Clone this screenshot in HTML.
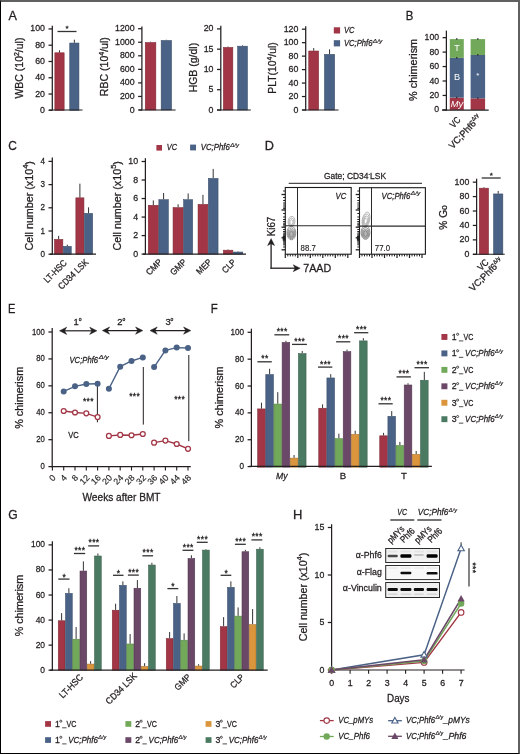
<!DOCTYPE html>
<html><head><meta charset="utf-8"><style>
html,body{margin:0;padding:0;background:#fff;}
body{width:520px;height:754px;overflow:hidden;position:relative;}
svg{position:absolute;left:0;top:0;display:block;will-change:transform;}
text{font-family:"Liberation Sans", sans-serif;fill:#231f20;stroke:#231f20;stroke-width:0.28px;}
.frame{position:absolute;left:0;top:0;width:520px;height:754px;box-sizing:border-box;
border-top:2px solid #606060;border-right:2px solid #606060;border-left:1px solid #000;border-bottom:1px solid #000;}
</style></head><body>
<svg width="520" height="754" viewBox="0 0 520 754" font-family='"Liberation Sans", sans-serif' fill="#231f20">
<text x="8.5" y="20.2" font-size="12.6" >A</text>
<line x1="59.5" y1="50.26" x2="59.5" y2="52.54" stroke="#333" stroke-width="1" />
<rect x="54.85" y="52.79" width="9.3" height="57.51" fill="#a23646" stroke="#7e2a36" stroke-width="0.55" />
<line x1="74.35" y1="39.69" x2="74.35" y2="42.78" stroke="#333" stroke-width="1" />
<rect x="69.75" y="43.03" width="9.2" height="67.27" fill="#4a6286" stroke="#394c68" stroke-width="0.55" />
<line x1="52.3" y1="25.8" x2="52.3" y2="110.62" stroke="#231f20" stroke-width="1.25" />
<line x1="48.5" y1="110.3" x2="52.3" y2="110.3" stroke="#231f20" stroke-width="1.25" />
<text x="45" y="112.8" font-size="9.8" text-anchor="end" textLength="4.9" lengthAdjust="spacingAndGlyphs" >0</text>
<line x1="48.5" y1="94.03" x2="52.3" y2="94.03" stroke="#231f20" stroke-width="1.25" />
<text x="45" y="96.53" font-size="9.8" text-anchor="end" textLength="9.8" lengthAdjust="spacingAndGlyphs" >20</text>
<line x1="48.5" y1="77.76" x2="52.3" y2="77.76" stroke="#231f20" stroke-width="1.25" />
<text x="45" y="80.26" font-size="9.8" text-anchor="end" textLength="9.8" lengthAdjust="spacingAndGlyphs" >40</text>
<line x1="48.5" y1="61.49" x2="52.3" y2="61.49" stroke="#231f20" stroke-width="1.25" />
<text x="45" y="63.99" font-size="9.8" text-anchor="end" textLength="9.8" lengthAdjust="spacingAndGlyphs" >60</text>
<line x1="48.5" y1="45.22" x2="52.3" y2="45.22" stroke="#231f20" stroke-width="1.25" />
<text x="45" y="47.72" font-size="9.8" text-anchor="end" textLength="9.8" lengthAdjust="spacingAndGlyphs" >80</text>
<line x1="48.5" y1="28.95" x2="52.3" y2="28.95" stroke="#231f20" stroke-width="1.25" />
<text x="45" y="31.45" font-size="9.8" text-anchor="end" textLength="14.7" lengthAdjust="spacingAndGlyphs" >100</text>
<line x1="49" y1="110" x2="82.5" y2="110" stroke="#231f20" stroke-width="1.1" />
<line x1="57.5" y1="31.5" x2="76.5" y2="31.5" stroke="#333" stroke-width="1.3" />
<text x="67" y="31" font-size="8" text-anchor="middle" >*</text>
<text transform="translate(22.8,68.1) rotate(-90)" font-size="10.6" text-anchor="middle" textLength="61" lengthAdjust="spacingAndGlyphs" >WBC (10<tspan dy="-4.3" font-size="7">2</tspan><tspan dy="4.3">/ul)</tspan></text>
<line x1="150.55" y1="41.71" x2="150.55" y2="42.25" stroke="#333" stroke-width="1" />
<rect x="145.25" y="42.5" width="10.6" height="67.5" fill="#a23646" stroke="#7e2a36" stroke-width="0.55" />
<line x1="166.35" y1="39.81" x2="166.35" y2="40.22" stroke="#333" stroke-width="1" />
<rect x="161.15" y="40.47" width="10.4" height="69.53" fill="#4a6286" stroke="#394c68" stroke-width="0.55" />
<line x1="141.9" y1="26.6" x2="141.9" y2="110.62" stroke="#231f20" stroke-width="1.25" />
<line x1="138.1" y1="110" x2="141.9" y2="110" stroke="#231f20" stroke-width="1.25" />
<text x="134.6" y="112.5" font-size="9.8" text-anchor="end" textLength="4.9" lengthAdjust="spacingAndGlyphs" >0</text>
<line x1="138.1" y1="96.45" x2="141.9" y2="96.45" stroke="#231f20" stroke-width="1.25" />
<text x="134.6" y="98.95" font-size="9.8" text-anchor="end" textLength="14.7" lengthAdjust="spacingAndGlyphs" >200</text>
<line x1="138.1" y1="82.9" x2="141.9" y2="82.9" stroke="#231f20" stroke-width="1.25" />
<text x="134.6" y="85.4" font-size="9.8" text-anchor="end" textLength="14.7" lengthAdjust="spacingAndGlyphs" >400</text>
<line x1="138.1" y1="69.35" x2="141.9" y2="69.35" stroke="#231f20" stroke-width="1.25" />
<text x="134.6" y="71.85" font-size="9.8" text-anchor="end" textLength="14.7" lengthAdjust="spacingAndGlyphs" >600</text>
<line x1="138.1" y1="55.8" x2="141.9" y2="55.8" stroke="#231f20" stroke-width="1.25" />
<text x="134.6" y="58.3" font-size="9.8" text-anchor="end" textLength="14.7" lengthAdjust="spacingAndGlyphs" >800</text>
<line x1="138.1" y1="42.25" x2="141.9" y2="42.25" stroke="#231f20" stroke-width="1.25" />
<text x="134.6" y="44.75" font-size="9.8" text-anchor="end" textLength="19.6" lengthAdjust="spacingAndGlyphs" >1000</text>
<line x1="138.1" y1="28.7" x2="141.9" y2="28.7" stroke="#231f20" stroke-width="1.25" />
<text x="134.6" y="31.2" font-size="9.8" text-anchor="end" textLength="19.6" lengthAdjust="spacingAndGlyphs" >1200</text>
<line x1="139" y1="110" x2="175.6" y2="110" stroke="#231f20" stroke-width="1.1" />
<text transform="translate(108,66.7) rotate(-90)" font-size="10.6" text-anchor="middle" textLength="59" lengthAdjust="spacingAndGlyphs" >RBC (10<tspan dy="-4.3" font-size="7">4</tspan><tspan dy="4.3">/ul)</tspan></text>
<line x1="228.1" y1="46.54" x2="228.1" y2="47.15" stroke="#333" stroke-width="1" />
<rect x="223.35" y="47.4" width="9.5" height="62.6" fill="#a23646" stroke="#7e2a36" stroke-width="0.55" />
<line x1="242.55" y1="45.32" x2="242.55" y2="45.93" stroke="#333" stroke-width="1" />
<rect x="237.65" y="46.18" width="9.8" height="63.82" fill="#4a6286" stroke="#394c68" stroke-width="0.55" />
<line x1="220.8" y1="25.8" x2="220.8" y2="110.62" stroke="#231f20" stroke-width="1.25" />
<line x1="217" y1="110" x2="220.8" y2="110" stroke="#231f20" stroke-width="1.25" />
<text x="213.5" y="112.5" font-size="9.8" text-anchor="end" textLength="4.9" lengthAdjust="spacingAndGlyphs" >0</text>
<line x1="217" y1="89.72" x2="220.8" y2="89.72" stroke="#231f20" stroke-width="1.25" />
<text x="213.5" y="92.22" font-size="9.8" text-anchor="end" textLength="4.9" lengthAdjust="spacingAndGlyphs" >5</text>
<line x1="217" y1="69.45" x2="220.8" y2="69.45" stroke="#231f20" stroke-width="1.25" />
<text x="213.5" y="71.95" font-size="9.8" text-anchor="end" textLength="9.8" lengthAdjust="spacingAndGlyphs" >10</text>
<line x1="217" y1="49.18" x2="220.8" y2="49.18" stroke="#231f20" stroke-width="1.25" />
<text x="213.5" y="51.68" font-size="9.8" text-anchor="end" textLength="9.8" lengthAdjust="spacingAndGlyphs" >15</text>
<line x1="217" y1="28.9" x2="220.8" y2="28.9" stroke="#231f20" stroke-width="1.25" />
<text x="213.5" y="31.4" font-size="9.8" text-anchor="end" textLength="9.8" lengthAdjust="spacingAndGlyphs" >20</text>
<line x1="217" y1="110" x2="250.8" y2="110" stroke="#231f20" stroke-width="1.1" />
<text transform="translate(197.3,67.6) rotate(-90)" font-size="10.6" text-anchor="middle" textLength="49.5" lengthAdjust="spacingAndGlyphs" >HGB (g/dl)</text>
<line x1="313.7" y1="48.05" x2="313.7" y2="50.75" stroke="#333" stroke-width="1" />
<rect x="308.75" y="51" width="9.9" height="59" fill="#a23646" stroke="#7e2a36" stroke-width="0.55" />
<line x1="329.55" y1="49.4" x2="329.55" y2="54.11" stroke="#333" stroke-width="1" />
<rect x="324.45" y="54.36" width="10.2" height="55.64" fill="#4a6286" stroke="#394c68" stroke-width="0.55" />
<line x1="305.7" y1="26.2" x2="305.7" y2="110.62" stroke="#231f20" stroke-width="1.25" />
<line x1="301.9" y1="110" x2="305.7" y2="110" stroke="#231f20" stroke-width="1.25" />
<text x="298.4" y="112.5" font-size="9.8" text-anchor="end" textLength="4.9" lengthAdjust="spacingAndGlyphs" >0</text>
<line x1="301.9" y1="96.53" x2="305.7" y2="96.53" stroke="#231f20" stroke-width="1.25" />
<text x="298.4" y="99.03" font-size="9.8" text-anchor="end" textLength="9.8" lengthAdjust="spacingAndGlyphs" >20</text>
<line x1="301.9" y1="83.07" x2="305.7" y2="83.07" stroke="#231f20" stroke-width="1.25" />
<text x="298.4" y="85.57" font-size="9.8" text-anchor="end" textLength="9.8" lengthAdjust="spacingAndGlyphs" >40</text>
<line x1="301.9" y1="69.6" x2="305.7" y2="69.6" stroke="#231f20" stroke-width="1.25" />
<text x="298.4" y="72.1" font-size="9.8" text-anchor="end" textLength="9.8" lengthAdjust="spacingAndGlyphs" >60</text>
<line x1="301.9" y1="56.13" x2="305.7" y2="56.13" stroke="#231f20" stroke-width="1.25" />
<text x="298.4" y="58.63" font-size="9.8" text-anchor="end" textLength="9.8" lengthAdjust="spacingAndGlyphs" >80</text>
<line x1="301.9" y1="42.67" x2="305.7" y2="42.67" stroke="#231f20" stroke-width="1.25" />
<text x="298.4" y="45.17" font-size="9.8" text-anchor="end" textLength="14.7" lengthAdjust="spacingAndGlyphs" >100</text>
<line x1="301.9" y1="29.2" x2="305.7" y2="29.2" stroke="#231f20" stroke-width="1.25" />
<text x="298.4" y="31.7" font-size="9.8" text-anchor="end" textLength="14.7" lengthAdjust="spacingAndGlyphs" >120</text>
<line x1="302.3" y1="110" x2="338.5" y2="110" stroke="#231f20" stroke-width="1.1" />
<text transform="translate(276,68) rotate(-90)" font-size="10.6" text-anchor="middle" textLength="51.5" lengthAdjust="spacingAndGlyphs" >PLT(10<tspan dy="-4.3" font-size="7">4</tspan><tspan dy="4.3">/ul)</tspan></text>
<rect x="333.8" y="27.3" width="6.3" height="6.2" fill="#a23646" />
<text x="344" y="33.4" font-size="9.2" font-style="italic" textLength="10.5" lengthAdjust="spacingAndGlyphs" >VC</text>
<rect x="333.8" y="40.2" width="6.3" height="6.2" fill="#4a6286" />
<text x="344" y="46.2" font-size="9.2" font-style="italic" textLength="28.4" lengthAdjust="spacingAndGlyphs" >VC;Phf6</text>
<text x="372.8" y="42.52" font-size="5.52" font-style="italic" textLength="9.6" lengthAdjust="spacingAndGlyphs" style="stroke-width:0.18px">&#916;/y</text>
<text x="405.8" y="20" font-size="12.6" textLength="7.6" lengthAdjust="spacingAndGlyphs" >B</text>
<rect x="449.8" y="97.62" width="14" height="12.28" fill="#a23646" />
<rect x="449.8" y="57.88" width="14" height="39.74" fill="#4a6286" />
<rect x="449.8" y="39.09" width="14" height="18.79" fill="#72a85a" />
<rect x="456.2" y="96.72" width="1.2" height="1.5" fill="#222" />
<rect x="456.2" y="56.98" width="1.2" height="1.5" fill="#222" />
<rect x="456.2" y="38.2" width="1.2" height="1.5" fill="#222" />
<rect x="470.6" y="98.34" width="14.5" height="11.56" fill="#a23646" />
<rect x="470.6" y="54.99" width="14.5" height="43.35" fill="#4a6286" />
<rect x="470.6" y="39.09" width="14.5" height="15.9" fill="#72a85a" />
<rect x="477.25" y="97.44" width="1.2" height="1.5" fill="#222" />
<rect x="477.25" y="54.09" width="1.2" height="1.5" fill="#222" />
<rect x="477.25" y="38.2" width="1.2" height="1.5" fill="#222" />
<line x1="446.4" y1="30.6" x2="446.4" y2="110.62" stroke="#231f20" stroke-width="1.25" />
<line x1="442.6" y1="109.9" x2="446.4" y2="109.9" stroke="#231f20" stroke-width="1.25" />
<text x="439.1" y="112.4" font-size="9.8" text-anchor="end" textLength="4.85" lengthAdjust="spacingAndGlyphs" >0</text>
<line x1="442.6" y1="95.45" x2="446.4" y2="95.45" stroke="#231f20" stroke-width="1.25" />
<text x="439.1" y="97.95" font-size="9.8" text-anchor="end" textLength="9.7" lengthAdjust="spacingAndGlyphs" >20</text>
<line x1="442.6" y1="81" x2="446.4" y2="81" stroke="#231f20" stroke-width="1.25" />
<text x="439.1" y="83.5" font-size="9.8" text-anchor="end" textLength="9.7" lengthAdjust="spacingAndGlyphs" >40</text>
<line x1="442.6" y1="66.55" x2="446.4" y2="66.55" stroke="#231f20" stroke-width="1.25" />
<text x="439.1" y="69.05" font-size="9.8" text-anchor="end" textLength="9.7" lengthAdjust="spacingAndGlyphs" >60</text>
<line x1="442.6" y1="52.1" x2="446.4" y2="52.1" stroke="#231f20" stroke-width="1.25" />
<text x="439.1" y="54.6" font-size="9.8" text-anchor="end" textLength="9.7" lengthAdjust="spacingAndGlyphs" >80</text>
<line x1="442.6" y1="37.65" x2="446.4" y2="37.65" stroke="#231f20" stroke-width="1.25" />
<text x="439.1" y="40.15" font-size="9.8" text-anchor="end" textLength="14.55" lengthAdjust="spacingAndGlyphs" >100</text>
<line x1="442" y1="110.1" x2="488.7" y2="110.1" stroke="#231f20" stroke-width="1.1" />
<text x="457" y="51" font-size="9" text-anchor="middle" style="fill:#fff;stroke:none" >T</text>
<text x="457" y="79.5" font-size="9.2" text-anchor="middle" style="fill:#fff;stroke:none" >B</text>
<text x="457" y="107" font-size="9.6" text-anchor="middle" font-style="italic" style="fill:#fff;stroke:none" textLength="12.5" lengthAdjust="spacingAndGlyphs" >My</text>
<text x="477.9" y="78" font-size="8" text-anchor="middle" style="fill:#fff;stroke:none" >*</text>
<text transform="translate(416.8,69.9) rotate(-90)" font-size="10.6" text-anchor="middle" textLength="62" lengthAdjust="spacingAndGlyphs" >% chimerism</text>
<text transform="translate(461,120.5) rotate(-47)" font-size="9.4" text-anchor="end" textLength="10.8" lengthAdjust="spacingAndGlyphs" >VC</text>
<text transform="translate(481.8,118.3) rotate(-47)" font-size="9.4" text-anchor="end" textLength="42.5" lengthAdjust="spacingAndGlyphs" >VC;Phf6<tspan dy="-3.95" font-size="5.45">&#916;/y</tspan></text>
<text x="8.2" y="150.3" font-size="12.6" textLength="8.6" lengthAdjust="spacingAndGlyphs" >C</text>
<line x1="58.65" y1="235.87" x2="58.65" y2="239.12" stroke="#333" stroke-width="1" />
<rect x="54.45" y="239.37" width="8.4" height="14.83" fill="#a23646" stroke="#7e2a36" stroke-width="0.55" />
<line x1="67.3" y1="244.69" x2="67.3" y2="246.08" stroke="#333" stroke-width="1" />
<rect x="63.35" y="246.33" width="7.9" height="7.87" fill="#4a6286" stroke="#394c68" stroke-width="0.55" />
<line x1="79.9" y1="183.67" x2="79.9" y2="197.59" stroke="#333" stroke-width="1" />
<rect x="75.85" y="197.84" width="8.1" height="56.36" fill="#a23646" stroke="#7e2a36" stroke-width="0.55" />
<line x1="88.55" y1="207.34" x2="88.55" y2="213.14" stroke="#333" stroke-width="1" />
<rect x="84.45" y="213.39" width="8.2" height="40.81" fill="#4a6286" stroke="#394c68" stroke-width="0.55" />
<line x1="52.3" y1="157.5" x2="52.3" y2="254.82" stroke="#231f20" stroke-width="1.25" />
<line x1="48.5" y1="254.2" x2="52.3" y2="254.2" stroke="#231f20" stroke-width="1.25" />
<text x="45" y="256.7" font-size="9.8" text-anchor="end" textLength="4.5" lengthAdjust="spacingAndGlyphs" >0</text>
<line x1="48.5" y1="231" x2="52.3" y2="231" stroke="#231f20" stroke-width="1.25" />
<text x="45" y="233.5" font-size="9.8" text-anchor="end" textLength="4.5" lengthAdjust="spacingAndGlyphs" >1</text>
<line x1="48.5" y1="207.8" x2="52.3" y2="207.8" stroke="#231f20" stroke-width="1.25" />
<text x="45" y="210.3" font-size="9.8" text-anchor="end" textLength="4.5" lengthAdjust="spacingAndGlyphs" >2</text>
<line x1="48.5" y1="184.6" x2="52.3" y2="184.6" stroke="#231f20" stroke-width="1.25" />
<text x="45" y="187.1" font-size="9.8" text-anchor="end" textLength="4.5" lengthAdjust="spacingAndGlyphs" >3</text>
<line x1="48.5" y1="161.4" x2="52.3" y2="161.4" stroke="#231f20" stroke-width="1.25" />
<text x="45" y="163.9" font-size="9.8" text-anchor="end" textLength="4.5" lengthAdjust="spacingAndGlyphs" >4</text>
<line x1="50" y1="254.1" x2="96" y2="254.1" stroke="#231f20" stroke-width="1.25" />
<text transform="translate(33,205.8) rotate(-90)" font-size="10.6" text-anchor="middle" textLength="89.5" lengthAdjust="spacingAndGlyphs" >Cell number (x10<tspan dy="-4.8" font-size="7.5">4</tspan><tspan dy="4.8">)</tspan></text>
<text transform="translate(67.4,263.6) rotate(-45)" font-size="9.2" text-anchor="end" textLength="28" lengthAdjust="spacingAndGlyphs" >LT-HSC</text>
<text transform="translate(89,262.8) rotate(-45)" font-size="9.2" text-anchor="end" textLength="38.5" lengthAdjust="spacingAndGlyphs" >CD34 LSK</text>
<line x1="153.3" y1="200.39" x2="153.3" y2="205.02" stroke="#333" stroke-width="1" />
<rect x="148.25" y="205.27" width="10.1" height="48.83" fill="#a23646" stroke="#7e2a36" stroke-width="0.55" />
<line x1="163.6" y1="192.98" x2="163.6" y2="199.47" stroke="#333" stroke-width="1" />
<rect x="158.85" y="199.72" width="9.5" height="54.38" fill="#4a6286" stroke="#394c68" stroke-width="0.55" />
<line x1="178.1" y1="204.28" x2="178.1" y2="207.34" stroke="#333" stroke-width="1" />
<rect x="173.05" y="207.59" width="10.1" height="46.51" fill="#a23646" stroke="#7e2a36" stroke-width="0.55" />
<line x1="188.15" y1="193.45" x2="188.15" y2="199.47" stroke="#333" stroke-width="1" />
<rect x="183.65" y="199.72" width="9" height="54.38" fill="#4a6286" stroke="#394c68" stroke-width="0.55" />
<line x1="202.95" y1="194.84" x2="202.95" y2="204.1" stroke="#333" stroke-width="1" />
<rect x="198.05" y="204.35" width="9.8" height="49.75" fill="#a23646" stroke="#7e2a36" stroke-width="0.55" />
<line x1="213.2" y1="168.91" x2="213.2" y2="178.17" stroke="#333" stroke-width="1" />
<rect x="208.35" y="178.42" width="9.7" height="75.68" fill="#4a6286" stroke="#394c68" stroke-width="0.55" />
<line x1="228.1" y1="249.47" x2="228.1" y2="249.93" stroke="#333" stroke-width="1" />
<rect x="223.35" y="250.18" width="9.5" height="3.92" fill="#a23646" stroke="#7e2a36" stroke-width="0.55" />
<line x1="238.05" y1="251.32" x2="238.05" y2="251.78" stroke="#333" stroke-width="1" />
<rect x="233.35" y="252.03" width="9.4" height="2.06" fill="#4a6286" stroke="#394c68" stroke-width="0.55" />
<line x1="145.4" y1="158.2" x2="145.4" y2="254.62" stroke="#231f20" stroke-width="1.25" />
<line x1="141.6" y1="254.1" x2="145.4" y2="254.1" stroke="#231f20" stroke-width="1.25" />
<text x="138.1" y="256.6" font-size="9.8" text-anchor="end" textLength="4.9" lengthAdjust="spacingAndGlyphs" >0</text>
<line x1="141.6" y1="235.58" x2="145.4" y2="235.58" stroke="#231f20" stroke-width="1.25" />
<text x="138.1" y="238.08" font-size="9.8" text-anchor="end" textLength="4.9" lengthAdjust="spacingAndGlyphs" >2</text>
<line x1="141.6" y1="217.06" x2="145.4" y2="217.06" stroke="#231f20" stroke-width="1.25" />
<text x="138.1" y="219.56" font-size="9.8" text-anchor="end" textLength="4.9" lengthAdjust="spacingAndGlyphs" >4</text>
<line x1="141.6" y1="198.54" x2="145.4" y2="198.54" stroke="#231f20" stroke-width="1.25" />
<text x="138.1" y="201.04" font-size="9.8" text-anchor="end" textLength="4.9" lengthAdjust="spacingAndGlyphs" >6</text>
<line x1="141.6" y1="180.02" x2="145.4" y2="180.02" stroke="#231f20" stroke-width="1.25" />
<text x="138.1" y="182.52" font-size="9.8" text-anchor="end" textLength="4.9" lengthAdjust="spacingAndGlyphs" >8</text>
<line x1="141.6" y1="161.5" x2="145.4" y2="161.5" stroke="#231f20" stroke-width="1.25" />
<text x="138.1" y="164" font-size="9.8" text-anchor="end" textLength="9.8" lengthAdjust="spacingAndGlyphs" >10</text>
<line x1="143" y1="254.2" x2="246" y2="254.2" stroke="#231f20" stroke-width="1.25" />
<text transform="translate(121,205.8) rotate(-90)" font-size="10.6" text-anchor="middle" textLength="89.5" lengthAdjust="spacingAndGlyphs" >Cell number (x10<tspan dy="-4.8" font-size="7.5">5</tspan><tspan dy="4.8">)</tspan></text>
<text transform="translate(162.6,262.6) rotate(-45)" font-size="8.9" text-anchor="end" textLength="18.6" lengthAdjust="spacingAndGlyphs" >CMP</text>
<text transform="translate(187,262.6) rotate(-45)" font-size="8.9" text-anchor="end" textLength="18.6" lengthAdjust="spacingAndGlyphs" >GMP</text>
<text transform="translate(212.3,262.6) rotate(-45)" font-size="8.9" text-anchor="end" textLength="17.6" lengthAdjust="spacingAndGlyphs" >MEP</text>
<text transform="translate(236.6,262.6) rotate(-45)" font-size="8.9" text-anchor="end" textLength="15.6" lengthAdjust="spacingAndGlyphs" >CLP</text>
<rect x="156.4" y="145" width="5.6" height="5.6" fill="#a23646" />
<text x="166.8" y="150.3" font-size="9.2" font-style="italic" textLength="10.3" lengthAdjust="spacingAndGlyphs" >VC</text>
<rect x="190.1" y="144.6" width="5.9" height="5.8" fill="#4a6286" />
<text x="200.8" y="150.4" font-size="9.2" font-style="italic" textLength="29" lengthAdjust="spacingAndGlyphs" >VC;Phf6</text>
<text x="230.2" y="146.72" font-size="5.52" font-style="italic" textLength="8.8" lengthAdjust="spacingAndGlyphs" style="stroke-width:0.18px">&#916;/y</text>
<text x="264.8" y="150.2" font-size="12.6" textLength="9.2" lengthAdjust="spacingAndGlyphs" >D</text>
<text x="324" y="179.3" font-size="9.2" textLength="62" lengthAdjust="spacingAndGlyphs" >Gate; CD34<tspan dy="-3.3" font-size="5.5">-</tspan><tspan dy="3.3">LSK</tspan></text>
<line x1="288.7" y1="183.3" x2="422" y2="183.3" stroke="#231f20" stroke-width="1" />
<defs><filter id="sb" x="-50%" y="-50%" width="200%" height="200%"><feGaussianBlur stdDeviation="0.35"/></filter></defs>
<line x1="281.5" y1="194.5" x2="285.3" y2="194.5" stroke="#231f20" stroke-width="1.3" />
<line x1="281.5" y1="210" x2="285.3" y2="210" stroke="#231f20" stroke-width="1.3" />
<line x1="281.5" y1="227.2" x2="285.3" y2="227.2" stroke="#231f20" stroke-width="1.3" />
<line x1="281.5" y1="237.8" x2="285.3" y2="237.8" stroke="#231f20" stroke-width="1.3" />
<line x1="281.5" y1="249.8" x2="285.3" y2="249.8" stroke="#231f20" stroke-width="1.3" />
<line x1="283.1" y1="191" x2="285.3" y2="191" stroke="#231f20" stroke-width="1" />
<line x1="283.1" y1="197.5" x2="285.3" y2="197.5" stroke="#231f20" stroke-width="1" />
<line x1="283.1" y1="200.5" x2="285.3" y2="200.5" stroke="#231f20" stroke-width="1" />
<line x1="283.1" y1="203" x2="285.3" y2="203" stroke="#231f20" stroke-width="1" />
<line x1="283.1" y1="205" x2="285.3" y2="205" stroke="#231f20" stroke-width="1" />
<line x1="283.1" y1="207" x2="285.3" y2="207" stroke="#231f20" stroke-width="1" />
<line x1="283.1" y1="208.6" x2="285.3" y2="208.6" stroke="#231f20" stroke-width="1" />
<line x1="283.1" y1="213.5" x2="285.3" y2="213.5" stroke="#231f20" stroke-width="1" />
<line x1="283.1" y1="217" x2="285.3" y2="217" stroke="#231f20" stroke-width="1" />
<line x1="283.1" y1="219.5" x2="285.3" y2="219.5" stroke="#231f20" stroke-width="1" />
<line x1="283.1" y1="221.5" x2="285.3" y2="221.5" stroke="#231f20" stroke-width="1" />
<line x1="283.1" y1="223.2" x2="285.3" y2="223.2" stroke="#231f20" stroke-width="1" />
<line x1="283.1" y1="224.7" x2="285.3" y2="224.7" stroke="#231f20" stroke-width="1" />
<line x1="283.1" y1="226" x2="285.3" y2="226" stroke="#231f20" stroke-width="1" />
<line x1="283.1" y1="229.5" x2="285.3" y2="229.5" stroke="#231f20" stroke-width="1" />
<line x1="283.1" y1="231.5" x2="285.3" y2="231.5" stroke="#231f20" stroke-width="1" />
<line x1="283.1" y1="233" x2="285.3" y2="233" stroke="#231f20" stroke-width="1" />
<line x1="283.1" y1="234.2" x2="285.3" y2="234.2" stroke="#231f20" stroke-width="1" />
<line x1="283.1" y1="235.2" x2="285.3" y2="235.2" stroke="#231f20" stroke-width="1" />
<line x1="283.1" y1="236.2" x2="285.3" y2="236.2" stroke="#231f20" stroke-width="1" />
<line x1="283.1" y1="237" x2="285.3" y2="237" stroke="#231f20" stroke-width="1" />
<line x1="283.1" y1="239" x2="285.3" y2="239" stroke="#231f20" stroke-width="1" />
<line x1="283.1" y1="240" x2="285.3" y2="240" stroke="#231f20" stroke-width="1" />
<line x1="283.1" y1="241" x2="285.3" y2="241" stroke="#231f20" stroke-width="1" />
<line x1="283.1" y1="242" x2="285.3" y2="242" stroke="#231f20" stroke-width="1" />
<line x1="283.1" y1="243.2" x2="285.3" y2="243.2" stroke="#231f20" stroke-width="1" />
<line x1="283.1" y1="244.8" x2="285.3" y2="244.8" stroke="#231f20" stroke-width="1" />
<line x1="283.1" y1="247" x2="285.3" y2="247" stroke="#231f20" stroke-width="1" />
<rect x="282.7" y="236" width="2.6" height="4.6" fill="#222" />
<line x1="285.3" y1="254.2" x2="285.3" y2="258" stroke="#231f20" stroke-width="1.2" />
<line x1="287.8" y1="254.2" x2="287.8" y2="256.4" stroke="#231f20" stroke-width="1" />
<line x1="290.3" y1="254.2" x2="290.3" y2="256.4" stroke="#231f20" stroke-width="1" />
<line x1="292.8" y1="254.2" x2="292.8" y2="256.4" stroke="#231f20" stroke-width="1" />
<line x1="295.3" y1="254.2" x2="295.3" y2="256.4" stroke="#231f20" stroke-width="1" />
<line x1="297.8" y1="254.2" x2="297.8" y2="258" stroke="#231f20" stroke-width="1.2" />
<line x1="300.3" y1="254.2" x2="300.3" y2="256.4" stroke="#231f20" stroke-width="1" />
<line x1="302.8" y1="254.2" x2="302.8" y2="256.4" stroke="#231f20" stroke-width="1" />
<line x1="305.3" y1="254.2" x2="305.3" y2="256.4" stroke="#231f20" stroke-width="1" />
<line x1="307.8" y1="254.2" x2="307.8" y2="256.4" stroke="#231f20" stroke-width="1" />
<line x1="310.3" y1="254.2" x2="310.3" y2="258" stroke="#231f20" stroke-width="1.2" />
<line x1="312.8" y1="254.2" x2="312.8" y2="256.4" stroke="#231f20" stroke-width="1" />
<line x1="315.3" y1="254.2" x2="315.3" y2="256.4" stroke="#231f20" stroke-width="1" />
<line x1="317.8" y1="254.2" x2="317.8" y2="256.4" stroke="#231f20" stroke-width="1" />
<line x1="320.3" y1="254.2" x2="320.3" y2="256.4" stroke="#231f20" stroke-width="1" />
<line x1="322.8" y1="254.2" x2="322.8" y2="258" stroke="#231f20" stroke-width="1.2" />
<line x1="325.3" y1="254.2" x2="325.3" y2="256.4" stroke="#231f20" stroke-width="1" />
<line x1="327.8" y1="254.2" x2="327.8" y2="256.4" stroke="#231f20" stroke-width="1" />
<line x1="330.3" y1="254.2" x2="330.3" y2="256.4" stroke="#231f20" stroke-width="1" />
<line x1="332.8" y1="254.2" x2="332.8" y2="256.4" stroke="#231f20" stroke-width="1" />
<line x1="335.3" y1="254.2" x2="335.3" y2="258" stroke="#231f20" stroke-width="1.2" />
<line x1="337.8" y1="254.2" x2="337.8" y2="256.4" stroke="#231f20" stroke-width="1" />
<line x1="340.3" y1="254.2" x2="340.3" y2="256.4" stroke="#231f20" stroke-width="1" />
<line x1="342.8" y1="254.2" x2="342.8" y2="256.4" stroke="#231f20" stroke-width="1" />
<line x1="345.3" y1="254.2" x2="345.3" y2="256.4" stroke="#231f20" stroke-width="1" />
<line x1="347.8" y1="254.2" x2="347.8" y2="258" stroke="#231f20" stroke-width="1.2" />
<g filter="url(#sb)">
<ellipse transform="rotate(6,291.5,221.5)" cx="291.5" cy="221.5" rx="3.4" ry="5.2" fill="none" stroke="#aaa" stroke-width="0.8"/>
<ellipse transform="rotate(6,291.5,221.5)" cx="291.5" cy="221.85" rx="2.49" ry="3.81" fill="none" stroke="#aaa" stroke-width="0.8"/>
<ellipse transform="rotate(6,291.5,221.5)" cx="291.5" cy="222.19" rx="1.59" ry="2.43" fill="none" stroke="#aaa" stroke-width="0.8"/>
<ellipse transform="rotate(0,291.4,233)" cx="291.4" cy="233" rx="4.4" ry="6.8" fill="none" stroke="#777" stroke-width="0.8"/>
<ellipse transform="rotate(0,291.4,233)" cx="291.4" cy="233.34" rx="3.52" ry="5.44" fill="none" stroke="#777" stroke-width="0.8"/>
<ellipse transform="rotate(0,291.4,233)" cx="291.4" cy="233.68" rx="2.64" ry="4.08" fill="none" stroke="#777" stroke-width="0.8"/>
<ellipse transform="rotate(0,291.4,233)" cx="291.4" cy="234.02" rx="1.76" ry="2.72" fill="none" stroke="#777" stroke-width="0.8"/>
<ellipse cx="291.4" cy="234.02" rx="2.64" ry="4.08" fill="#888" fill-opacity="0.6"/>
</g>
<rect x="285.3" y="187.5" width="65.9" height="66.7" fill="none" stroke="#1a1a1a" stroke-width="1.1" />
<line x1="297.5" y1="187.5" x2="297.5" y2="254.2" stroke="#2a2a2a" stroke-width="1" />
<line x1="285.3" y1="225.8" x2="351.2" y2="225.8" stroke="#2a2a2a" stroke-width="1.1" />
<text x="346.2" y="198.7" font-size="9.2" text-anchor="end" font-style="italic" textLength="10.7" lengthAdjust="spacingAndGlyphs" >VC</text>
<text x="300.6" y="250.6" font-size="9" textLength="15.2" lengthAdjust="spacingAndGlyphs" style="stroke-width:0.15px">88.7</text>
<line x1="355.7" y1="194.5" x2="359.5" y2="194.5" stroke="#231f20" stroke-width="1.3" />
<line x1="355.7" y1="210" x2="359.5" y2="210" stroke="#231f20" stroke-width="1.3" />
<line x1="355.7" y1="227.2" x2="359.5" y2="227.2" stroke="#231f20" stroke-width="1.3" />
<line x1="355.7" y1="237.8" x2="359.5" y2="237.8" stroke="#231f20" stroke-width="1.3" />
<line x1="355.7" y1="249.8" x2="359.5" y2="249.8" stroke="#231f20" stroke-width="1.3" />
<line x1="357.3" y1="191" x2="359.5" y2="191" stroke="#231f20" stroke-width="1" />
<line x1="357.3" y1="197.5" x2="359.5" y2="197.5" stroke="#231f20" stroke-width="1" />
<line x1="357.3" y1="200.5" x2="359.5" y2="200.5" stroke="#231f20" stroke-width="1" />
<line x1="357.3" y1="203" x2="359.5" y2="203" stroke="#231f20" stroke-width="1" />
<line x1="357.3" y1="205" x2="359.5" y2="205" stroke="#231f20" stroke-width="1" />
<line x1="357.3" y1="207" x2="359.5" y2="207" stroke="#231f20" stroke-width="1" />
<line x1="357.3" y1="208.6" x2="359.5" y2="208.6" stroke="#231f20" stroke-width="1" />
<line x1="357.3" y1="213.5" x2="359.5" y2="213.5" stroke="#231f20" stroke-width="1" />
<line x1="357.3" y1="217" x2="359.5" y2="217" stroke="#231f20" stroke-width="1" />
<line x1="357.3" y1="219.5" x2="359.5" y2="219.5" stroke="#231f20" stroke-width="1" />
<line x1="357.3" y1="221.5" x2="359.5" y2="221.5" stroke="#231f20" stroke-width="1" />
<line x1="357.3" y1="223.2" x2="359.5" y2="223.2" stroke="#231f20" stroke-width="1" />
<line x1="357.3" y1="224.7" x2="359.5" y2="224.7" stroke="#231f20" stroke-width="1" />
<line x1="357.3" y1="226" x2="359.5" y2="226" stroke="#231f20" stroke-width="1" />
<line x1="357.3" y1="229.5" x2="359.5" y2="229.5" stroke="#231f20" stroke-width="1" />
<line x1="357.3" y1="231.5" x2="359.5" y2="231.5" stroke="#231f20" stroke-width="1" />
<line x1="357.3" y1="233" x2="359.5" y2="233" stroke="#231f20" stroke-width="1" />
<line x1="357.3" y1="234.2" x2="359.5" y2="234.2" stroke="#231f20" stroke-width="1" />
<line x1="357.3" y1="235.2" x2="359.5" y2="235.2" stroke="#231f20" stroke-width="1" />
<line x1="357.3" y1="236.2" x2="359.5" y2="236.2" stroke="#231f20" stroke-width="1" />
<line x1="357.3" y1="237" x2="359.5" y2="237" stroke="#231f20" stroke-width="1" />
<line x1="357.3" y1="239" x2="359.5" y2="239" stroke="#231f20" stroke-width="1" />
<line x1="357.3" y1="240" x2="359.5" y2="240" stroke="#231f20" stroke-width="1" />
<line x1="357.3" y1="241" x2="359.5" y2="241" stroke="#231f20" stroke-width="1" />
<line x1="357.3" y1="242" x2="359.5" y2="242" stroke="#231f20" stroke-width="1" />
<line x1="357.3" y1="243.2" x2="359.5" y2="243.2" stroke="#231f20" stroke-width="1" />
<line x1="357.3" y1="244.8" x2="359.5" y2="244.8" stroke="#231f20" stroke-width="1" />
<line x1="357.3" y1="247" x2="359.5" y2="247" stroke="#231f20" stroke-width="1" />
<rect x="356.9" y="236" width="2.6" height="4.6" fill="#222" />
<line x1="359.5" y1="254.2" x2="359.5" y2="258" stroke="#231f20" stroke-width="1.2" />
<line x1="362" y1="254.2" x2="362" y2="256.4" stroke="#231f20" stroke-width="1" />
<line x1="364.5" y1="254.2" x2="364.5" y2="256.4" stroke="#231f20" stroke-width="1" />
<line x1="367" y1="254.2" x2="367" y2="256.4" stroke="#231f20" stroke-width="1" />
<line x1="369.5" y1="254.2" x2="369.5" y2="256.4" stroke="#231f20" stroke-width="1" />
<line x1="372" y1="254.2" x2="372" y2="258" stroke="#231f20" stroke-width="1.2" />
<line x1="374.5" y1="254.2" x2="374.5" y2="256.4" stroke="#231f20" stroke-width="1" />
<line x1="377" y1="254.2" x2="377" y2="256.4" stroke="#231f20" stroke-width="1" />
<line x1="379.5" y1="254.2" x2="379.5" y2="256.4" stroke="#231f20" stroke-width="1" />
<line x1="382" y1="254.2" x2="382" y2="256.4" stroke="#231f20" stroke-width="1" />
<line x1="384.5" y1="254.2" x2="384.5" y2="258" stroke="#231f20" stroke-width="1.2" />
<line x1="387" y1="254.2" x2="387" y2="256.4" stroke="#231f20" stroke-width="1" />
<line x1="389.5" y1="254.2" x2="389.5" y2="256.4" stroke="#231f20" stroke-width="1" />
<line x1="392" y1="254.2" x2="392" y2="256.4" stroke="#231f20" stroke-width="1" />
<line x1="394.5" y1="254.2" x2="394.5" y2="256.4" stroke="#231f20" stroke-width="1" />
<line x1="397" y1="254.2" x2="397" y2="258" stroke="#231f20" stroke-width="1.2" />
<line x1="399.5" y1="254.2" x2="399.5" y2="256.4" stroke="#231f20" stroke-width="1" />
<line x1="402" y1="254.2" x2="402" y2="256.4" stroke="#231f20" stroke-width="1" />
<line x1="404.5" y1="254.2" x2="404.5" y2="256.4" stroke="#231f20" stroke-width="1" />
<line x1="407" y1="254.2" x2="407" y2="256.4" stroke="#231f20" stroke-width="1" />
<line x1="409.5" y1="254.2" x2="409.5" y2="258" stroke="#231f20" stroke-width="1.2" />
<line x1="412" y1="254.2" x2="412" y2="256.4" stroke="#231f20" stroke-width="1" />
<line x1="414.5" y1="254.2" x2="414.5" y2="256.4" stroke="#231f20" stroke-width="1" />
<line x1="417" y1="254.2" x2="417" y2="256.4" stroke="#231f20" stroke-width="1" />
<line x1="419.5" y1="254.2" x2="419.5" y2="256.4" stroke="#231f20" stroke-width="1" />
<line x1="422" y1="254.2" x2="422" y2="258" stroke="#231f20" stroke-width="1.2" />
<g filter="url(#sb)">
<ellipse transform="rotate(12,366,219.8)" cx="366" cy="219.8" rx="3.7" ry="7.8" fill="none" stroke="#aaa" stroke-width="0.8"/>
<ellipse transform="rotate(12,366,219.8)" cx="366" cy="220.19" rx="2.96" ry="6.24" fill="none" stroke="#aaa" stroke-width="0.8"/>
<ellipse transform="rotate(12,366,219.8)" cx="366" cy="220.58" rx="2.22" ry="4.68" fill="none" stroke="#aaa" stroke-width="0.8"/>
<ellipse transform="rotate(12,366,219.8)" cx="366" cy="220.97" rx="1.48" ry="3.12" fill="none" stroke="#aaa" stroke-width="0.8"/>
<ellipse transform="rotate(0,365.5,232.6)" cx="365.5" cy="232.6" rx="4.4" ry="6.8" fill="none" stroke="#777" stroke-width="0.8"/>
<ellipse transform="rotate(0,365.5,232.6)" cx="365.5" cy="232.94" rx="3.52" ry="5.44" fill="none" stroke="#777" stroke-width="0.8"/>
<ellipse transform="rotate(0,365.5,232.6)" cx="365.5" cy="233.28" rx="2.64" ry="4.08" fill="none" stroke="#777" stroke-width="0.8"/>
<ellipse transform="rotate(0,365.5,232.6)" cx="365.5" cy="233.62" rx="1.76" ry="2.72" fill="none" stroke="#777" stroke-width="0.8"/>
<ellipse cx="365.5" cy="233.62" rx="2.64" ry="4.08" fill="#888" fill-opacity="0.6"/>
</g>
<rect x="359.5" y="187.7" width="65.9" height="66.5" fill="none" stroke="#1a1a1a" stroke-width="1.1" />
<line x1="371.5" y1="187.7" x2="371.5" y2="254.2" stroke="#2a2a2a" stroke-width="1" />
<line x1="359.5" y1="226.1" x2="425.4" y2="226.1" stroke="#2a2a2a" stroke-width="1.1" />
<text x="381.5" y="198.9" font-size="9.2" font-style="italic" textLength="28.8" lengthAdjust="spacingAndGlyphs" >VC;Phf6</text>
<text x="410.7" y="195.22" font-size="5.52" font-style="italic" textLength="9.6" lengthAdjust="spacingAndGlyphs" style="stroke-width:0.18px">&#916;/y</text>
<text x="374.8" y="250.6" font-size="9" textLength="15.2" lengthAdjust="spacingAndGlyphs" style="stroke-width:0.15px">77.0</text>
<line x1="271.1" y1="268.8" x2="271.1" y2="243" stroke="#231f20" stroke-width="1.3" />
<path d="M271.1,238.6 L267.6,245.6 L271.1,243.8 L274.6,245.6 Z" fill="#231f20" stroke="#231f20" stroke-width="0.4" stroke-linejoin="round"/>
<line x1="270.45" y1="268.2" x2="296" y2="268.2" stroke="#231f20" stroke-width="1.3" />
<path d="M300.2,268.2 L293.2,264.7 L295.0,268.2 L293.2,271.7 Z" fill="#231f20" stroke="#231f20" stroke-width="0.4" stroke-linejoin="round"/>
<text transform="translate(275.4,226.5) rotate(-90)" font-size="10.6" text-anchor="middle" textLength="19.5" lengthAdjust="spacingAndGlyphs" >Ki67</text>
<text x="303.2" y="271.8" font-size="10.6" textLength="28" lengthAdjust="spacingAndGlyphs" >7AAD</text>
<line x1="483.9" y1="187.2" x2="483.9" y2="187.92" stroke="#333" stroke-width="1" />
<rect x="479.25" y="188.17" width="9.3" height="66.13" fill="#a23646" stroke="#7e2a36" stroke-width="0.55" />
<line x1="498.2" y1="190.95" x2="498.2" y2="193.69" stroke="#333" stroke-width="1" />
<rect x="493.55" y="193.94" width="9.3" height="60.36" fill="#4a6286" stroke="#394c68" stroke-width="0.55" />
<line x1="476.6" y1="178.7" x2="476.6" y2="254.93" stroke="#231f20" stroke-width="1.25" />
<line x1="472.8" y1="254.3" x2="476.6" y2="254.3" stroke="#231f20" stroke-width="1.25" />
<text x="469.3" y="256.8" font-size="9.8" text-anchor="end" textLength="4.9" lengthAdjust="spacingAndGlyphs" >0</text>
<line x1="472.8" y1="239.87" x2="476.6" y2="239.87" stroke="#231f20" stroke-width="1.25" />
<text x="469.3" y="242.37" font-size="9.8" text-anchor="end" textLength="9.8" lengthAdjust="spacingAndGlyphs" >20</text>
<line x1="472.8" y1="225.44" x2="476.6" y2="225.44" stroke="#231f20" stroke-width="1.25" />
<text x="469.3" y="227.94" font-size="9.8" text-anchor="end" textLength="9.8" lengthAdjust="spacingAndGlyphs" >40</text>
<line x1="472.8" y1="211.01" x2="476.6" y2="211.01" stroke="#231f20" stroke-width="1.25" />
<text x="469.3" y="213.51" font-size="9.8" text-anchor="end" textLength="9.8" lengthAdjust="spacingAndGlyphs" >60</text>
<line x1="472.8" y1="196.58" x2="476.6" y2="196.58" stroke="#231f20" stroke-width="1.25" />
<text x="469.3" y="199.08" font-size="9.8" text-anchor="end" textLength="9.8" lengthAdjust="spacingAndGlyphs" >80</text>
<line x1="472.8" y1="182.15" x2="476.6" y2="182.15" stroke="#231f20" stroke-width="1.25" />
<text x="469.3" y="184.65" font-size="9.8" text-anchor="end" textLength="14.7" lengthAdjust="spacingAndGlyphs" >100</text>
<line x1="472.9" y1="254.3" x2="504.7" y2="254.3" stroke="#231f20" stroke-width="1.1" />
<line x1="481.7" y1="178" x2="500.7" y2="178" stroke="#333" stroke-width="1.3" />
<text x="491.2" y="177.5" font-size="8" text-anchor="middle" >*</text>
<text transform="translate(446.6,217.4) rotate(-90)" font-size="10.6" text-anchor="middle" textLength="24.5" lengthAdjust="spacingAndGlyphs" >% G<tspan font-size="9">o</tspan></text>
<text transform="translate(489.3,263) rotate(-45)" font-size="9.4" text-anchor="end" textLength="11.5" lengthAdjust="spacingAndGlyphs" >VC</text>
<text transform="translate(503.4,261.6) rotate(-45)" font-size="9.4" text-anchor="end" textLength="43" lengthAdjust="spacingAndGlyphs" >VC;Phf6<tspan dy="-3.95" font-size="5.45">&#916;/y</tspan></text>
<text x="7.9" y="313" font-size="12.6" textLength="7.4" lengthAdjust="spacingAndGlyphs" >E</text>
<line x1="52.2" y1="328.1" x2="52.2" y2="467.23" stroke="#231f20" stroke-width="1.25" />
<line x1="48.4" y1="466.6" x2="52.2" y2="466.6" stroke="#231f20" stroke-width="1.25" />
<text x="44.9" y="469.1" font-size="9.8" text-anchor="end" textLength="4.3" lengthAdjust="spacingAndGlyphs" >0</text>
<line x1="48.4" y1="439.68" x2="52.2" y2="439.68" stroke="#231f20" stroke-width="1.25" />
<text x="44.9" y="442.18" font-size="9.8" text-anchor="end" textLength="8.6" lengthAdjust="spacingAndGlyphs" >20</text>
<line x1="48.4" y1="412.76" x2="52.2" y2="412.76" stroke="#231f20" stroke-width="1.25" />
<text x="44.9" y="415.26" font-size="9.8" text-anchor="end" textLength="8.6" lengthAdjust="spacingAndGlyphs" >40</text>
<line x1="48.4" y1="385.84" x2="52.2" y2="385.84" stroke="#231f20" stroke-width="1.25" />
<text x="44.9" y="388.34" font-size="9.8" text-anchor="end" textLength="8.6" lengthAdjust="spacingAndGlyphs" >60</text>
<line x1="48.4" y1="358.92" x2="52.2" y2="358.92" stroke="#231f20" stroke-width="1.25" />
<text x="44.9" y="361.42" font-size="9.8" text-anchor="end" textLength="8.6" lengthAdjust="spacingAndGlyphs" >80</text>
<line x1="48.4" y1="332" x2="52.2" y2="332" stroke="#231f20" stroke-width="1.25" />
<text x="44.9" y="334.5" font-size="9.8" text-anchor="end" textLength="12.9" lengthAdjust="spacingAndGlyphs" >100</text>
<line x1="51.3" y1="466.6" x2="190.8" y2="466.6" stroke="#231f20" stroke-width="1.1" />
<line x1="52.4" y1="466.6" x2="52.4" y2="470.6" stroke="#231f20" stroke-width="1.1" />
<text transform="translate(56.2,478.3) rotate(-45)" font-size="8.8" text-anchor="end" style="stroke-width:0.15px">0</text>
<line x1="63.7" y1="466.6" x2="63.7" y2="470.6" stroke="#231f20" stroke-width="1.1" />
<text transform="translate(67.5,478.3) rotate(-45)" font-size="8.8" text-anchor="end" style="stroke-width:0.15px">4</text>
<line x1="75" y1="466.6" x2="75" y2="470.6" stroke="#231f20" stroke-width="1.1" />
<text transform="translate(78.8,478.3) rotate(-45)" font-size="8.8" text-anchor="end" style="stroke-width:0.15px">8</text>
<line x1="86.3" y1="466.6" x2="86.3" y2="470.6" stroke="#231f20" stroke-width="1.1" />
<text transform="translate(90.1,478.3) rotate(-45)" font-size="8.8" text-anchor="end" style="stroke-width:0.15px">12</text>
<line x1="97.6" y1="466.6" x2="97.6" y2="470.6" stroke="#231f20" stroke-width="1.1" />
<text transform="translate(101.4,478.3) rotate(-45)" font-size="8.8" text-anchor="end" style="stroke-width:0.15px">16</text>
<line x1="108.9" y1="466.6" x2="108.9" y2="470.6" stroke="#231f20" stroke-width="1.1" />
<text transform="translate(112.7,478.3) rotate(-45)" font-size="8.8" text-anchor="end" style="stroke-width:0.15px">20</text>
<line x1="120.2" y1="466.6" x2="120.2" y2="470.6" stroke="#231f20" stroke-width="1.1" />
<text transform="translate(124,478.3) rotate(-45)" font-size="8.8" text-anchor="end" style="stroke-width:0.15px">24</text>
<line x1="131.5" y1="466.6" x2="131.5" y2="470.6" stroke="#231f20" stroke-width="1.1" />
<text transform="translate(135.3,478.3) rotate(-45)" font-size="8.8" text-anchor="end" style="stroke-width:0.15px">28</text>
<line x1="142.8" y1="466.6" x2="142.8" y2="470.6" stroke="#231f20" stroke-width="1.1" />
<text transform="translate(146.6,478.3) rotate(-45)" font-size="8.8" text-anchor="end" style="stroke-width:0.15px">32</text>
<line x1="154.1" y1="466.6" x2="154.1" y2="470.6" stroke="#231f20" stroke-width="1.1" />
<text transform="translate(157.9,478.3) rotate(-45)" font-size="8.8" text-anchor="end" style="stroke-width:0.15px">36</text>
<line x1="165.4" y1="466.6" x2="165.4" y2="470.6" stroke="#231f20" stroke-width="1.1" />
<text transform="translate(169.2,478.3) rotate(-45)" font-size="8.8" text-anchor="end" style="stroke-width:0.15px">40</text>
<line x1="176.7" y1="466.6" x2="176.7" y2="470.6" stroke="#231f20" stroke-width="1.1" />
<text transform="translate(180.5,478.3) rotate(-45)" font-size="8.8" text-anchor="end" style="stroke-width:0.15px">44</text>
<line x1="188" y1="466.6" x2="188" y2="470.6" stroke="#231f20" stroke-width="1.1" />
<text transform="translate(191.8,478.3) rotate(-45)" font-size="8.8" text-anchor="end" style="stroke-width:0.15px">48</text>
<text x="121.5" y="501.2" font-size="10.8" text-anchor="middle" textLength="78" lengthAdjust="spacingAndGlyphs" >Weeks after BMT</text>
<text transform="translate(22.6,397.8) rotate(-90)" font-size="10.6" text-anchor="middle" textLength="62" lengthAdjust="spacingAndGlyphs" >% chimerism</text>
<line x1="62.5" y1="330.8" x2="93.9" y2="330.8" stroke="#231f20" stroke-width="1.2" />
<path d="M59.5,330.8 L66.7,327.2 L64.5,330.8 L66.7,334.4 Z" fill="#231f20" stroke="#231f20" stroke-width="0.5" stroke-linejoin="round"/>
<path d="M96.9,330.8 L89.7,327.2 L91.9,330.8 L89.7,334.4 Z" fill="#231f20" stroke="#231f20" stroke-width="0.5" stroke-linejoin="round"/>
<text x="77.6" y="324.8" font-size="9.4" text-anchor="middle" >1<tspan font-size="5" dy="-3.4">o</tspan></text>
<line x1="105.4" y1="330.6" x2="139.8" y2="330.6" stroke="#231f20" stroke-width="1.2" />
<path d="M102.4,330.6 L109.6,327 L107.4,330.6 L109.6,334.2 Z" fill="#231f20" stroke="#231f20" stroke-width="0.5" stroke-linejoin="round"/>
<path d="M142.8,330.6 L135.6,327 L137.8,330.6 L135.6,334.2 Z" fill="#231f20" stroke="#231f20" stroke-width="0.5" stroke-linejoin="round"/>
<text x="121.2" y="324.8" font-size="9.4" text-anchor="middle" >2<tspan font-size="5" dy="-3.4">o</tspan></text>
<line x1="153" y1="330.6" x2="187.8" y2="330.6" stroke="#231f20" stroke-width="1.2" />
<path d="M150,330.6 L157.2,327 L155,330.6 L157.2,334.2 Z" fill="#231f20" stroke="#231f20" stroke-width="0.5" stroke-linejoin="round"/>
<path d="M190.8,330.6 L183.6,327 L185.8,330.6 L183.6,334.2 Z" fill="#231f20" stroke="#231f20" stroke-width="0.5" stroke-linejoin="round"/>
<text x="169.4" y="324.8" font-size="9.4" text-anchor="middle" >3<tspan font-size="5" dy="-3.4">o</tspan></text>
<text x="69.5" y="363" font-size="9.4" font-style="italic" textLength="28.6" lengthAdjust="spacingAndGlyphs" >VC;Phf6</text>
<text x="98.7" y="359.24" font-size="5.64" font-style="italic" textLength="10.2" lengthAdjust="spacingAndGlyphs" style="stroke-width:0.18px">&#916;/y</text>
<text x="68.2" y="437.8" font-size="9.4" textLength="10.5" lengthAdjust="spacingAndGlyphs" >VC</text>
<line x1="97.4" y1="383" x2="97.4" y2="422.3" stroke="#231f20" stroke-width="1" />
<line x1="143.3" y1="367" x2="143.3" y2="424.6" stroke="#231f20" stroke-width="1" />
<line x1="188.8" y1="355" x2="188.8" y2="441.2" stroke="#231f20" stroke-width="1" />
<text x="88.4" y="403.6" font-size="8.4" text-anchor="middle" style="stroke-width:0.3px;letter-spacing:0.4px">***</text>
<text x="134.7" y="399.2" font-size="8.4" text-anchor="middle" style="stroke-width:0.3px;letter-spacing:0.4px">***</text>
<text x="179.7" y="401.6" font-size="8.4" text-anchor="middle" style="stroke-width:0.3px;letter-spacing:0.4px">***</text>
<polyline points="63.7,391.47 75,386.34 86.3,384.05 97.6,383.77" fill="none" stroke="#4a6286" stroke-width="1.4"/>
<polyline points="63.7,411.05 75,412.53 86.3,413.34 97.6,417.12" fill="none" stroke="#a23646" stroke-width="1.4"/>
<polyline points="108.9,388.77 120.2,366.63 131.5,360.96 142.8,357.45" fill="none" stroke="#4a6286" stroke-width="1.4"/>
<polyline points="108.9,435.88 120.2,434.94 131.5,435.21 142.8,434" fill="none" stroke="#a23646" stroke-width="1.4"/>
<polyline points="154.1,367.03 165.4,350.43 176.7,347.6 188,348" fill="none" stroke="#4a6286" stroke-width="1.4"/>
<polyline points="154.1,442.63 165.4,440.61 176.7,443.99 188,448.85" fill="none" stroke="#a23646" stroke-width="1.4"/>
<circle cx="63.7" cy="391.47" r="3.0" fill="#4a6286"/>
<circle cx="75" cy="386.34" r="3.0" fill="#4a6286"/>
<circle cx="86.3" cy="384.05" r="3.0" fill="#4a6286"/>
<circle cx="97.6" cy="383.77" r="3.0" fill="#4a6286"/>
<circle cx="108.9" cy="388.77" r="3.0" fill="#4a6286"/>
<circle cx="120.2" cy="366.63" r="3.0" fill="#4a6286"/>
<circle cx="131.5" cy="360.96" r="3.0" fill="#4a6286"/>
<circle cx="142.8" cy="357.45" r="3.0" fill="#4a6286"/>
<circle cx="154.1" cy="367.03" r="3.0" fill="#4a6286"/>
<circle cx="165.4" cy="350.43" r="3.0" fill="#4a6286"/>
<circle cx="176.7" cy="347.6" r="3.0" fill="#4a6286"/>
<circle cx="188" cy="348" r="3.0" fill="#4a6286"/>
<circle cx="63.7" cy="411.05" r="2.45" fill="#fff" stroke="#a23646" stroke-width="1.25"/>
<circle cx="75" cy="412.53" r="2.45" fill="#fff" stroke="#a23646" stroke-width="1.25"/>
<circle cx="86.3" cy="413.34" r="2.45" fill="#fff" stroke="#a23646" stroke-width="1.25"/>
<circle cx="97.6" cy="417.12" r="2.45" fill="#fff" stroke="#a23646" stroke-width="1.25"/>
<circle cx="108.9" cy="435.88" r="2.45" fill="#fff" stroke="#a23646" stroke-width="1.25"/>
<circle cx="120.2" cy="434.94" r="2.45" fill="#fff" stroke="#a23646" stroke-width="1.25"/>
<circle cx="131.5" cy="435.21" r="2.45" fill="#fff" stroke="#a23646" stroke-width="1.25"/>
<circle cx="142.8" cy="434" r="2.45" fill="#fff" stroke="#a23646" stroke-width="1.25"/>
<circle cx="154.1" cy="442.63" r="2.45" fill="#fff" stroke="#a23646" stroke-width="1.25"/>
<circle cx="165.4" cy="440.61" r="2.45" fill="#fff" stroke="#a23646" stroke-width="1.25"/>
<circle cx="176.7" cy="443.99" r="2.45" fill="#fff" stroke="#a23646" stroke-width="1.25"/>
<circle cx="188" cy="448.85" r="2.45" fill="#fff" stroke="#a23646" stroke-width="1.25"/>
<text x="210.8" y="312.8" font-size="12.6" textLength="7" lengthAdjust="spacingAndGlyphs" >F</text>
<line x1="261.47" y1="402.71" x2="261.47" y2="408.66" stroke="#333" stroke-width="1" />
<rect x="257.65" y="408.91" width="7.65" height="58.29" fill="#a23646" stroke="#7e2a36" stroke-width="0.55" />
<line x1="269.62" y1="368.77" x2="269.62" y2="374.32" stroke="#333" stroke-width="1" />
<rect x="265.8" y="374.57" width="7.65" height="92.63" fill="#4a6286" stroke="#394c68" stroke-width="0.55" />
<line x1="277.77" y1="392.16" x2="277.77" y2="403.79" stroke="#333" stroke-width="1" />
<rect x="273.95" y="404.04" width="7.65" height="63.16" fill="#72a85a" stroke="#588346" stroke-width="0.55" />
<line x1="285.92" y1="340.79" x2="285.92" y2="342.14" stroke="#333" stroke-width="1" />
<rect x="282.1" y="342.39" width="7.65" height="124.81" fill="#6b4868" stroke="#533851" stroke-width="0.55" />
<line x1="294.07" y1="455.03" x2="294.07" y2="457.87" stroke="#333" stroke-width="1" />
<rect x="290.25" y="458.12" width="7.65" height="9.08" fill="#db953c" stroke="#aa742e" stroke-width="0.55" />
<line x1="302.22" y1="350.93" x2="302.22" y2="353.36" stroke="#333" stroke-width="1" />
<rect x="298.4" y="353.61" width="7.65" height="113.59" fill="#4b7a62" stroke="#3a5f4c" stroke-width="0.55" />
<line x1="322.57" y1="404.33" x2="322.57" y2="407.98" stroke="#333" stroke-width="1" />
<rect x="318.75" y="408.23" width="7.65" height="58.97" fill="#a23646" stroke="#7e2a36" stroke-width="0.55" />
<line x1="330.73" y1="374.18" x2="330.73" y2="377.7" stroke="#333" stroke-width="1" />
<rect x="326.9" y="377.95" width="7.65" height="89.25" fill="#4a6286" stroke="#394c68" stroke-width="0.55" />
<line x1="338.88" y1="433.67" x2="338.88" y2="438.4" stroke="#333" stroke-width="1" />
<rect x="335.05" y="438.65" width="7.65" height="28.55" fill="#72a85a" stroke="#588346" stroke-width="0.55" />
<line x1="347.02" y1="349.58" x2="347.02" y2="351.33" stroke="#333" stroke-width="1" />
<rect x="343.2" y="351.58" width="7.65" height="115.62" fill="#6b4868" stroke="#533851" stroke-width="0.55" />
<line x1="355.18" y1="430.7" x2="355.18" y2="434.08" stroke="#333" stroke-width="1" />
<rect x="351.35" y="434.33" width="7.65" height="32.87" fill="#db953c" stroke="#aa742e" stroke-width="0.55" />
<line x1="363.32" y1="338.08" x2="363.32" y2="340.65" stroke="#333" stroke-width="1" />
<rect x="359.5" y="340.9" width="7.65" height="126.3" fill="#4b7a62" stroke="#3a5f4c" stroke-width="0.55" />
<line x1="383.57" y1="432.86" x2="383.57" y2="435.56" stroke="#333" stroke-width="1" />
<rect x="379.75" y="435.81" width="7.65" height="31.39" fill="#a23646" stroke="#7e2a36" stroke-width="0.55" />
<line x1="391.73" y1="411.09" x2="391.73" y2="416.09" stroke="#333" stroke-width="1" />
<rect x="387.9" y="416.34" width="7.65" height="50.86" fill="#4a6286" stroke="#394c68" stroke-width="0.55" />
<line x1="399.88" y1="441.92" x2="399.88" y2="445.16" stroke="#333" stroke-width="1" />
<rect x="396.05" y="445.41" width="7.65" height="21.79" fill="#72a85a" stroke="#588346" stroke-width="0.55" />
<line x1="408.02" y1="383.24" x2="408.02" y2="384.73" stroke="#333" stroke-width="1" />
<rect x="404.2" y="384.98" width="7.65" height="82.22" fill="#6b4868" stroke="#533851" stroke-width="0.55" />
<line x1="416.18" y1="450.98" x2="416.18" y2="454.09" stroke="#333" stroke-width="1" />
<rect x="412.35" y="454.34" width="7.65" height="12.86" fill="#db953c" stroke="#aa742e" stroke-width="0.55" />
<line x1="424.32" y1="371.88" x2="424.32" y2="380" stroke="#333" stroke-width="1" />
<rect x="420.5" y="380.25" width="7.65" height="86.95" fill="#4b7a62" stroke="#3a5f4c" stroke-width="0.55" />
<line x1="251.4" y1="328.7" x2="251.4" y2="467.02" stroke="#231f20" stroke-width="1.25" />
<line x1="247.6" y1="466.6" x2="251.4" y2="466.6" stroke="#231f20" stroke-width="1.25" />
<text x="244.1" y="469.1" font-size="9.8" text-anchor="end" textLength="4.55" lengthAdjust="spacingAndGlyphs" >0</text>
<line x1="247.6" y1="439.74" x2="251.4" y2="439.74" stroke="#231f20" stroke-width="1.25" />
<text x="244.1" y="442.24" font-size="9.8" text-anchor="end" textLength="9.1" lengthAdjust="spacingAndGlyphs" >20</text>
<line x1="247.6" y1="412.88" x2="251.4" y2="412.88" stroke="#231f20" stroke-width="1.25" />
<text x="244.1" y="415.38" font-size="9.8" text-anchor="end" textLength="9.1" lengthAdjust="spacingAndGlyphs" >40</text>
<line x1="247.6" y1="386.02" x2="251.4" y2="386.02" stroke="#231f20" stroke-width="1.25" />
<text x="244.1" y="388.52" font-size="9.8" text-anchor="end" textLength="9.1" lengthAdjust="spacingAndGlyphs" >60</text>
<line x1="247.6" y1="359.16" x2="251.4" y2="359.16" stroke="#231f20" stroke-width="1.25" />
<text x="244.1" y="361.66" font-size="9.8" text-anchor="end" textLength="9.1" lengthAdjust="spacingAndGlyphs" >80</text>
<line x1="247.6" y1="332.3" x2="251.4" y2="332.3" stroke="#231f20" stroke-width="1.25" />
<text x="244.1" y="334.8" font-size="9.8" text-anchor="end" textLength="13.65" lengthAdjust="spacingAndGlyphs" >100</text>
<line x1="249" y1="466.4" x2="431.9" y2="466.4" stroke="#231f20" stroke-width="1.1" />
<line x1="257.4" y1="361.8" x2="271.8" y2="361.8" stroke="#333" stroke-width="1.3" />
<text x="264.95" y="361.3" font-size="8.4" text-anchor="middle" style="stroke-width:0.3px;letter-spacing:0.4px">**</text>
<line x1="274.4" y1="334.8" x2="289.2" y2="334.8" stroke="#333" stroke-width="1.3" />
<text x="282.15" y="334.3" font-size="8.4" text-anchor="middle" style="stroke-width:0.3px;letter-spacing:0.4px">***</text>
<line x1="292" y1="344.4" x2="306.9" y2="344.4" stroke="#333" stroke-width="1.3" />
<text x="299.8" y="343.9" font-size="8.4" text-anchor="middle" style="stroke-width:0.3px;letter-spacing:0.4px">***</text>
<line x1="318" y1="367.1" x2="332.3" y2="367.1" stroke="#333" stroke-width="1.3" />
<text x="325.5" y="366.6" font-size="8.4" text-anchor="middle" style="stroke-width:0.3px;letter-spacing:0.4px">***</text>
<line x1="336.1" y1="341.8" x2="350.3" y2="341.8" stroke="#333" stroke-width="1.3" />
<text x="343.55" y="341.3" font-size="8.4" text-anchor="middle" style="stroke-width:0.3px;letter-spacing:0.4px">***</text>
<line x1="354.1" y1="332.7" x2="368.3" y2="332.7" stroke="#333" stroke-width="1.3" />
<text x="361.55" y="332.2" font-size="8.4" text-anchor="middle" style="stroke-width:0.3px;letter-spacing:0.4px">***</text>
<line x1="378.5" y1="403.8" x2="392.7" y2="403.8" stroke="#333" stroke-width="1.3" />
<text x="385.95" y="403.3" font-size="8.4" text-anchor="middle" style="stroke-width:0.3px;letter-spacing:0.4px">***</text>
<line x1="396.5" y1="376.9" x2="410.9" y2="376.9" stroke="#333" stroke-width="1.3" />
<text x="404.05" y="376.4" font-size="8.4" text-anchor="middle" style="stroke-width:0.3px;letter-spacing:0.4px">***</text>
<line x1="414.5" y1="367.7" x2="429" y2="367.7" stroke="#333" stroke-width="1.3" />
<text x="422.1" y="367.2" font-size="8.4" text-anchor="middle" style="stroke-width:0.3px;letter-spacing:0.4px">***</text>
<text x="281.8" y="479" font-size="9.6" text-anchor="middle" font-style="italic" textLength="11.5" lengthAdjust="spacingAndGlyphs" >My</text>
<text x="342.9" y="479" font-size="9.6" text-anchor="middle" >B</text>
<text x="403.9" y="479" font-size="9.6" text-anchor="middle" >T</text>
<text transform="translate(222.6,397.4) rotate(-90)" font-size="10.6" text-anchor="middle" textLength="62" lengthAdjust="spacingAndGlyphs" >% chimerism</text>
<rect x="441.4" y="334" width="6" height="5.9" fill="#a23646" />
<text x="451.7" y="339.8" font-size="9.2" textLength="4.87" lengthAdjust="spacingAndGlyphs" >1</text>
<circle cx="457.62" cy="334.28" r="1.05" fill="none" stroke="#231f20" stroke-width="0.8"/>
<line x1="458.89" y1="340.9" x2="463.3" y2="340.9" stroke="#231f20" stroke-width="0.8" />
<text x="463.4" y="339.8" font-size="9.2" textLength="9.9" lengthAdjust="spacingAndGlyphs" >VC</text>
<rect x="441.4" y="350.45" width="6" height="5.9" fill="#4a6286" />
<text x="451.7" y="356.25" font-size="9.2" textLength="4.87" lengthAdjust="spacingAndGlyphs" >1</text>
<circle cx="457.62" cy="350.73" r="1.05" fill="none" stroke="#231f20" stroke-width="0.8"/>
<line x1="458.89" y1="357.35" x2="463.3" y2="357.35" stroke="#231f20" stroke-width="0.8" />
<text x="465.1" y="356.25" font-size="9.2" font-style="italic" textLength="29.6" lengthAdjust="spacingAndGlyphs" >VC;Phf6</text>
<text x="495.1" y="352.57" font-size="5.52" font-style="italic" textLength="8" lengthAdjust="spacingAndGlyphs" style="stroke-width:0.18px">&#916;/y</text>
<rect x="441.4" y="366.9" width="6" height="5.9" fill="#72a85a" />
<text x="451.7" y="372.7" font-size="9.2" textLength="4.87" lengthAdjust="spacingAndGlyphs" >2</text>
<circle cx="457.62" cy="367.18" r="1.05" fill="none" stroke="#231f20" stroke-width="0.8"/>
<line x1="458.89" y1="373.8" x2="463.3" y2="373.8" stroke="#231f20" stroke-width="0.8" />
<text x="463.4" y="372.7" font-size="9.2" textLength="9.9" lengthAdjust="spacingAndGlyphs" >VC</text>
<rect x="441.4" y="383.35" width="6" height="5.9" fill="#6b4868" />
<text x="451.7" y="389.15" font-size="9.2" textLength="4.87" lengthAdjust="spacingAndGlyphs" >2</text>
<circle cx="457.62" cy="383.63" r="1.05" fill="none" stroke="#231f20" stroke-width="0.8"/>
<line x1="458.89" y1="390.25" x2="463.3" y2="390.25" stroke="#231f20" stroke-width="0.8" />
<text x="465.1" y="389.15" font-size="9.2" font-style="italic" textLength="29.6" lengthAdjust="spacingAndGlyphs" >VC;Phf6</text>
<text x="495.1" y="385.47" font-size="5.52" font-style="italic" textLength="8" lengthAdjust="spacingAndGlyphs" style="stroke-width:0.18px">&#916;/y</text>
<rect x="441.4" y="399.8" width="6" height="5.9" fill="#db953c" />
<text x="451.7" y="405.6" font-size="9.2" textLength="4.87" lengthAdjust="spacingAndGlyphs" >3</text>
<circle cx="457.62" cy="400.08" r="1.05" fill="none" stroke="#231f20" stroke-width="0.8"/>
<line x1="458.89" y1="406.7" x2="463.3" y2="406.7" stroke="#231f20" stroke-width="0.8" />
<text x="463.4" y="405.6" font-size="9.2" textLength="9.9" lengthAdjust="spacingAndGlyphs" >VC</text>
<rect x="441.4" y="416.25" width="6" height="5.9" fill="#4b7a62" />
<text x="451.7" y="422.05" font-size="9.2" textLength="4.87" lengthAdjust="spacingAndGlyphs" >3</text>
<circle cx="457.62" cy="416.53" r="1.05" fill="none" stroke="#231f20" stroke-width="0.8"/>
<line x1="458.89" y1="423.15" x2="463.3" y2="423.15" stroke="#231f20" stroke-width="0.8" />
<text x="465.1" y="422.05" font-size="9.2" font-style="italic" textLength="29.6" lengthAdjust="spacingAndGlyphs" >VC;Phf6</text>
<text x="495.1" y="418.37" font-size="5.52" font-style="italic" textLength="8" lengthAdjust="spacingAndGlyphs" style="stroke-width:0.18px">&#916;/y</text>
<text x="8.2" y="519.4" font-size="12.6" textLength="9.4" lengthAdjust="spacingAndGlyphs" >G</text>
<line x1="61.62" y1="613.1" x2="61.62" y2="620.5" stroke="#333" stroke-width="1" />
<rect x="58.25" y="620.75" width="6.75" height="49.45" fill="#a23646" stroke="#7e2a36" stroke-width="0.55" />
<line x1="68.88" y1="588.25" x2="68.88" y2="593.14" stroke="#333" stroke-width="1" />
<rect x="65.5" y="593.39" width="6.75" height="76.81" fill="#4a6286" stroke="#394c68" stroke-width="0.55" />
<line x1="76.12" y1="627.03" x2="76.12" y2="638.95" stroke="#333" stroke-width="1" />
<rect x="72.75" y="639.2" width="6.75" height="31" fill="#72a85a" stroke="#588346" stroke-width="0.55" />
<line x1="83.38" y1="561.39" x2="83.38" y2="570.8" stroke="#333" stroke-width="1" />
<rect x="80" y="571.05" width="6.75" height="99.15" fill="#6b4868" stroke="#533851" stroke-width="0.55" />
<line x1="90.62" y1="661.16" x2="90.62" y2="663.8" stroke="#333" stroke-width="1" />
<rect x="87.25" y="664.05" width="6.75" height="6.15" fill="#db953c" stroke="#aa742e" stroke-width="0.55" />
<line x1="97.88" y1="553.49" x2="97.88" y2="555.74" stroke="#333" stroke-width="1" />
<rect x="94.5" y="555.99" width="6.75" height="114.21" fill="#4b7a62" stroke="#3a5f4c" stroke-width="0.55" />
<line x1="115.62" y1="603.69" x2="115.62" y2="609.96" stroke="#333" stroke-width="1" />
<rect x="112.25" y="610.21" width="6.75" height="59.99" fill="#a23646" stroke="#7e2a36" stroke-width="0.55" />
<line x1="122.88" y1="581.35" x2="122.88" y2="585.11" stroke="#333" stroke-width="1" />
<rect x="119.5" y="585.36" width="6.75" height="84.84" fill="#4a6286" stroke="#394c68" stroke-width="0.55" />
<line x1="130.12" y1="634.06" x2="130.12" y2="643.72" stroke="#333" stroke-width="1" />
<rect x="126.75" y="643.97" width="6.75" height="26.23" fill="#72a85a" stroke="#588346" stroke-width="0.55" />
<line x1="137.38" y1="580.09" x2="137.38" y2="588" stroke="#333" stroke-width="1" />
<rect x="134" y="588.25" width="6.75" height="81.95" fill="#6b4868" stroke="#533851" stroke-width="0.55" />
<line x1="144.62" y1="663.17" x2="144.62" y2="666.18" stroke="#333" stroke-width="1" />
<rect x="141.25" y="666.43" width="6.75" height="3.77" fill="#db953c" stroke="#aa742e" stroke-width="0.55" />
<line x1="151.88" y1="562.77" x2="151.88" y2="564.78" stroke="#333" stroke-width="1" />
<rect x="148.5" y="565.03" width="6.75" height="105.17" fill="#4b7a62" stroke="#3a5f4c" stroke-width="0.55" />
<line x1="169.62" y1="632.05" x2="169.62" y2="638.32" stroke="#333" stroke-width="1" />
<rect x="166.25" y="638.57" width="6.75" height="31.63" fill="#a23646" stroke="#7e2a36" stroke-width="0.55" />
<line x1="176.88" y1="596.03" x2="176.88" y2="603.18" stroke="#333" stroke-width="1" />
<rect x="173.5" y="603.43" width="6.75" height="66.77" fill="#4a6286" stroke="#394c68" stroke-width="0.55" />
<line x1="184.12" y1="633.43" x2="184.12" y2="639.95" stroke="#333" stroke-width="1" />
<rect x="180.75" y="640.2" width="6.75" height="30" fill="#72a85a" stroke="#588346" stroke-width="0.55" />
<line x1="191.38" y1="555.24" x2="191.38" y2="558.25" stroke="#333" stroke-width="1" />
<rect x="188" y="558.5" width="6.75" height="111.7" fill="#6b4868" stroke="#533851" stroke-width="0.55" />
<line x1="198.62" y1="664.18" x2="198.62" y2="665.81" stroke="#333" stroke-width="1" />
<rect x="195.25" y="666.06" width="6.75" height="4.14" fill="#db953c" stroke="#aa742e" stroke-width="0.55" />
<line x1="205.88" y1="549.22" x2="205.88" y2="549.85" stroke="#333" stroke-width="1" />
<rect x="202.5" y="550.1" width="6.75" height="120.1" fill="#4b7a62" stroke="#3a5f4c" stroke-width="0.55" />
<line x1="223.62" y1="617.11" x2="223.62" y2="626.4" stroke="#333" stroke-width="1" />
<rect x="220.25" y="626.65" width="6.75" height="43.55" fill="#a23646" stroke="#7e2a36" stroke-width="0.55" />
<line x1="230.88" y1="581.35" x2="230.88" y2="587.12" stroke="#333" stroke-width="1" />
<rect x="227.5" y="587.37" width="6.75" height="82.83" fill="#4a6286" stroke="#394c68" stroke-width="0.55" />
<line x1="238.12" y1="607.45" x2="238.12" y2="615.86" stroke="#333" stroke-width="1" />
<rect x="234.75" y="616.11" width="6.75" height="54.09" fill="#72a85a" stroke="#588346" stroke-width="0.55" />
<line x1="245.38" y1="549.85" x2="245.38" y2="551.48" stroke="#333" stroke-width="1" />
<rect x="242" y="551.73" width="6.75" height="118.47" fill="#6b4868" stroke="#533851" stroke-width="0.55" />
<line x1="252.62" y1="609.08" x2="252.62" y2="624.39" stroke="#333" stroke-width="1" />
<rect x="249.25" y="624.64" width="6.75" height="45.56" fill="#db953c" stroke="#aa742e" stroke-width="0.55" />
<line x1="259.88" y1="547.34" x2="259.88" y2="548.97" stroke="#333" stroke-width="1" />
<rect x="256.5" y="549.22" width="6.75" height="120.98" fill="#4b7a62" stroke="#3a5f4c" stroke-width="0.55" />
<line x1="52.35" y1="541.3" x2="52.35" y2="670.83" stroke="#231f20" stroke-width="1.25" />
<line x1="48.55" y1="670.2" x2="52.35" y2="670.2" stroke="#231f20" stroke-width="1.25" />
<text x="45.05" y="672.7" font-size="9.8" text-anchor="end" textLength="4.7" lengthAdjust="spacingAndGlyphs" >0</text>
<line x1="48.55" y1="645.14" x2="52.35" y2="645.14" stroke="#231f20" stroke-width="1.25" />
<text x="45.05" y="647.64" font-size="9.8" text-anchor="end" textLength="9.4" lengthAdjust="spacingAndGlyphs" >20</text>
<line x1="48.55" y1="620.08" x2="52.35" y2="620.08" stroke="#231f20" stroke-width="1.25" />
<text x="45.05" y="622.58" font-size="9.8" text-anchor="end" textLength="9.4" lengthAdjust="spacingAndGlyphs" >40</text>
<line x1="48.55" y1="595.02" x2="52.35" y2="595.02" stroke="#231f20" stroke-width="1.25" />
<text x="45.05" y="597.52" font-size="9.8" text-anchor="end" textLength="9.4" lengthAdjust="spacingAndGlyphs" >60</text>
<line x1="48.55" y1="569.96" x2="52.35" y2="569.96" stroke="#231f20" stroke-width="1.25" />
<text x="45.05" y="572.46" font-size="9.8" text-anchor="end" textLength="9.4" lengthAdjust="spacingAndGlyphs" >80</text>
<line x1="48.55" y1="544.9" x2="52.35" y2="544.9" stroke="#231f20" stroke-width="1.25" />
<text x="45.05" y="547.4" font-size="9.8" text-anchor="end" textLength="14.1" lengthAdjust="spacingAndGlyphs" >100</text>
<line x1="50" y1="670.2" x2="267.7" y2="670.2" stroke="#231f20" stroke-width="1.25" />
<line x1="58.3" y1="579.1" x2="69.5" y2="579.1" stroke="#333" stroke-width="1.3" />
<text x="64.25" y="579.6" font-size="8.4" text-anchor="middle" style="stroke-width:0.3px;letter-spacing:0.4px">*</text>
<line x1="73.9" y1="553.5" x2="85.2" y2="553.5" stroke="#333" stroke-width="1.3" />
<text x="79.9" y="553" font-size="8.4" text-anchor="middle" style="stroke-width:0.3px;letter-spacing:0.4px">***</text>
<line x1="88.2" y1="545.9" x2="99.1" y2="545.9" stroke="#333" stroke-width="1.3" />
<text x="94" y="545.4" font-size="8.4" text-anchor="middle" style="stroke-width:0.3px;letter-spacing:0.4px">***</text>
<line x1="113" y1="575.3" x2="123.5" y2="575.3" stroke="#333" stroke-width="1.3" />
<text x="118.6" y="575.8" font-size="8.4" text-anchor="middle" style="stroke-width:0.3px;letter-spacing:0.4px">*</text>
<line x1="127.9" y1="575.1" x2="138.8" y2="575.1" stroke="#333" stroke-width="1.3" />
<text x="133.7" y="574.6" font-size="8.4" text-anchor="middle" style="stroke-width:0.3px;letter-spacing:0.4px">***</text>
<line x1="142.4" y1="555.8" x2="153.1" y2="555.8" stroke="#333" stroke-width="1.3" />
<text x="148.1" y="555.3" font-size="8.4" text-anchor="middle" style="stroke-width:0.3px;letter-spacing:0.4px">***</text>
<line x1="167.4" y1="588.6" x2="178.3" y2="588.6" stroke="#333" stroke-width="1.3" />
<text x="173.2" y="589.1" font-size="8.4" text-anchor="middle" style="stroke-width:0.3px;letter-spacing:0.4px">*</text>
<line x1="182.5" y1="550.3" x2="193.4" y2="550.3" stroke="#333" stroke-width="1.3" />
<text x="188.3" y="549.8" font-size="8.4" text-anchor="middle" style="stroke-width:0.3px;letter-spacing:0.4px">***</text>
<line x1="196.8" y1="542.3" x2="207.7" y2="542.3" stroke="#333" stroke-width="1.3" />
<text x="202.6" y="541.8" font-size="8.4" text-anchor="middle" style="stroke-width:0.3px;letter-spacing:0.4px">***</text>
<line x1="220.6" y1="575.3" x2="231.3" y2="575.3" stroke="#333" stroke-width="1.3" />
<text x="226.3" y="575.8" font-size="8.4" text-anchor="middle" style="stroke-width:0.3px;letter-spacing:0.4px">*</text>
<line x1="234.9" y1="544.3" x2="245.8" y2="544.3" stroke="#333" stroke-width="1.3" />
<text x="240.7" y="543.8" font-size="8.4" text-anchor="middle" style="stroke-width:0.3px;letter-spacing:0.4px">***</text>
<line x1="251.4" y1="539.9" x2="262.3" y2="539.9" stroke="#333" stroke-width="1.3" />
<text x="257.2" y="539.4" font-size="8.4" text-anchor="middle" style="stroke-width:0.3px;letter-spacing:0.4px">***</text>
<text transform="translate(22.8,605.6) rotate(-90)" font-size="10.6" text-anchor="middle" textLength="61.5" lengthAdjust="spacingAndGlyphs" >% chimerism</text>
<text transform="translate(83.6,678) rotate(-45)" font-size="9.2" text-anchor="end" textLength="29.5" lengthAdjust="spacingAndGlyphs" >LT-HSC</text>
<text transform="translate(137.6,676.6) rotate(-45)" font-size="9.2" text-anchor="end" textLength="40" lengthAdjust="spacingAndGlyphs" >CD34 LSK</text>
<text transform="translate(191.3,677.6) rotate(-45)" font-size="8.9" text-anchor="end" textLength="18.8" lengthAdjust="spacingAndGlyphs" >GMP</text>
<text transform="translate(244.9,677.6) rotate(-45)" font-size="8.9" text-anchor="end" textLength="15.6" lengthAdjust="spacingAndGlyphs" >CLP</text>
<rect x="45.1" y="721.1" width="5.9" height="5.7" fill="#a23646" />
<text x="54.9" y="726.7" font-size="9.2" textLength="4.87" lengthAdjust="spacingAndGlyphs" >1</text>
<circle cx="60.82" cy="721.18" r="1.05" fill="none" stroke="#231f20" stroke-width="0.8"/>
<line x1="62.09" y1="727.8" x2="66.5" y2="727.8" stroke="#231f20" stroke-width="0.8" />
<text x="66.6" y="726.7" font-size="9.2" textLength="9.9" lengthAdjust="spacingAndGlyphs" >VC</text>
<rect x="45.1" y="737.2" width="5.9" height="5.7" fill="#4a6286" />
<text x="54.9" y="742.8" font-size="9.2" textLength="4.87" lengthAdjust="spacingAndGlyphs" >1</text>
<circle cx="60.82" cy="737.28" r="1.05" fill="none" stroke="#231f20" stroke-width="0.8"/>
<line x1="62.09" y1="743.9" x2="66.5" y2="743.9" stroke="#231f20" stroke-width="0.8" />
<text x="68.3" y="742.8" font-size="9.2" font-style="italic" textLength="29.6" lengthAdjust="spacingAndGlyphs" >VC;Phf6</text>
<text x="98.3" y="739.12" font-size="5.52" font-style="italic" textLength="8" lengthAdjust="spacingAndGlyphs" style="stroke-width:0.18px">&#916;/y</text>
<rect x="125.4" y="721.1" width="5.9" height="5.7" fill="#72a85a" />
<text x="135.2" y="726.7" font-size="9.2" textLength="4.87" lengthAdjust="spacingAndGlyphs" >2</text>
<circle cx="141.12" cy="721.18" r="1.05" fill="none" stroke="#231f20" stroke-width="0.8"/>
<line x1="142.39" y1="727.8" x2="146.8" y2="727.8" stroke="#231f20" stroke-width="0.8" />
<text x="146.9" y="726.7" font-size="9.2" textLength="9.9" lengthAdjust="spacingAndGlyphs" >VC</text>
<rect x="125.4" y="737.2" width="5.9" height="5.7" fill="#6b4868" />
<text x="135.2" y="742.8" font-size="9.2" textLength="4.87" lengthAdjust="spacingAndGlyphs" >2</text>
<circle cx="141.12" cy="737.28" r="1.05" fill="none" stroke="#231f20" stroke-width="0.8"/>
<line x1="142.39" y1="743.9" x2="146.8" y2="743.9" stroke="#231f20" stroke-width="0.8" />
<text x="148.6" y="742.8" font-size="9.2" font-style="italic" textLength="29.6" lengthAdjust="spacingAndGlyphs" >VC;Phf6</text>
<text x="178.6" y="739.12" font-size="5.52" font-style="italic" textLength="8" lengthAdjust="spacingAndGlyphs" style="stroke-width:0.18px">&#916;/y</text>
<rect x="205.6" y="721.1" width="5.9" height="5.7" fill="#db953c" />
<text x="215.4" y="726.7" font-size="9.2" textLength="4.87" lengthAdjust="spacingAndGlyphs" >3</text>
<circle cx="221.32" cy="721.18" r="1.05" fill="none" stroke="#231f20" stroke-width="0.8"/>
<line x1="222.59" y1="727.8" x2="227" y2="727.8" stroke="#231f20" stroke-width="0.8" />
<text x="227.1" y="726.7" font-size="9.2" textLength="9.9" lengthAdjust="spacingAndGlyphs" >VC</text>
<rect x="205.6" y="737.2" width="5.9" height="5.7" fill="#4b7a62" />
<text x="215.4" y="742.8" font-size="9.2" textLength="4.87" lengthAdjust="spacingAndGlyphs" >3</text>
<circle cx="221.32" cy="737.28" r="1.05" fill="none" stroke="#231f20" stroke-width="0.8"/>
<line x1="222.59" y1="743.9" x2="227" y2="743.9" stroke="#231f20" stroke-width="0.8" />
<text x="228.8" y="742.8" font-size="9.2" font-style="italic" textLength="29.6" lengthAdjust="spacingAndGlyphs" >VC;Phf6</text>
<text x="258.8" y="739.12" font-size="5.52" font-style="italic" textLength="8" lengthAdjust="spacingAndGlyphs" style="stroke-width:0.18px">&#916;/y</text>
<text x="292.9" y="519.2" font-size="12.6" textLength="9.4" lengthAdjust="spacingAndGlyphs" >H</text>
<line x1="331.6" y1="524.2" x2="331.6" y2="670.62" stroke="#231f20" stroke-width="1.25" />
<line x1="327.8" y1="670" x2="331.6" y2="670" stroke="#231f20" stroke-width="1.25" />
<text x="324.3" y="672.5" font-size="9.8" text-anchor="end" textLength="4.9" lengthAdjust="spacingAndGlyphs" >0</text>
<line x1="327.8" y1="622.5" x2="331.6" y2="622.5" stroke="#231f20" stroke-width="1.25" />
<text x="324.3" y="625" font-size="9.8" text-anchor="end" textLength="4.9" lengthAdjust="spacingAndGlyphs" >5</text>
<line x1="327.8" y1="575" x2="331.6" y2="575" stroke="#231f20" stroke-width="1.25" />
<text x="324.3" y="577.5" font-size="9.8" text-anchor="end" textLength="9.8" lengthAdjust="spacingAndGlyphs" >10</text>
<line x1="327.8" y1="527.5" x2="331.6" y2="527.5" stroke="#231f20" stroke-width="1.25" />
<text x="324.3" y="530" font-size="9.8" text-anchor="end" textLength="9.8" lengthAdjust="spacingAndGlyphs" >15</text>
<line x1="330" y1="670" x2="464.6" y2="670" stroke="#231f20" stroke-width="1.1" />
<line x1="331.6" y1="670" x2="331.6" y2="673.8" stroke="#231f20" stroke-width="1.1" />
<text x="331.6" y="686.2" font-size="8.8" text-anchor="middle" >0</text>
<line x1="350.1" y1="670" x2="350.1" y2="673.8" stroke="#231f20" stroke-width="1.1" />
<text x="350.1" y="686.2" font-size="8.8" text-anchor="middle" >1</text>
<line x1="368.6" y1="670" x2="368.6" y2="673.8" stroke="#231f20" stroke-width="1.1" />
<text x="368.6" y="686.2" font-size="8.8" text-anchor="middle" >2</text>
<line x1="387.1" y1="670" x2="387.1" y2="673.8" stroke="#231f20" stroke-width="1.1" />
<text x="387.1" y="686.2" font-size="8.8" text-anchor="middle" >3</text>
<line x1="405.6" y1="670" x2="405.6" y2="673.8" stroke="#231f20" stroke-width="1.1" />
<text x="405.6" y="686.2" font-size="8.8" text-anchor="middle" >4</text>
<line x1="424.1" y1="670" x2="424.1" y2="673.8" stroke="#231f20" stroke-width="1.1" />
<text x="424.1" y="686.2" font-size="8.8" text-anchor="middle" >5</text>
<line x1="442.6" y1="670" x2="442.6" y2="673.8" stroke="#231f20" stroke-width="1.1" />
<text x="442.6" y="686.2" font-size="8.8" text-anchor="middle" >6</text>
<line x1="461.1" y1="670" x2="461.1" y2="673.8" stroke="#231f20" stroke-width="1.1" />
<text x="461.1" y="686.2" font-size="8.8" text-anchor="middle" >7</text>
<text x="387" y="702.2" font-size="10.8" textLength="22.5" lengthAdjust="spacingAndGlyphs" >Days</text>
<text transform="translate(307.2,597) rotate(-90)" font-size="10.6" text-anchor="middle" textLength="88.5" lengthAdjust="spacingAndGlyphs" >Cell number (x10<tspan dy="-4.8" font-size="7.5">4</tspan><tspan dy="4.8">)</tspan></text>
<text x="397.2" y="515.4" font-size="9.2" font-style="italic" textLength="9.8" lengthAdjust="spacingAndGlyphs" >VC</text>
<line x1="390.3" y1="520" x2="414.3" y2="520" stroke="#333" stroke-width="1.35" />
<text x="417.8" y="515.4" font-size="9.2" font-style="italic" textLength="30.6" lengthAdjust="spacingAndGlyphs" >VC;Phf6</text>
<text x="448.8" y="511.72" font-size="5.52" font-style="italic" textLength="8.2" lengthAdjust="spacingAndGlyphs" style="stroke-width:0.18px">&#916;/y</text>
<line x1="417.3" y1="520" x2="441.5" y2="520" stroke="#333" stroke-width="1.35" />
<text transform="translate(405.1,529.6) rotate(-45)" font-size="9.2" text-anchor="end" textLength="20" lengthAdjust="spacingAndGlyphs" >pMYs</text>
<text transform="translate(415.4,531.6) rotate(-45)" font-size="9.2" text-anchor="end" textLength="16.5" lengthAdjust="spacingAndGlyphs" >Phf6</text>
<text transform="translate(432.2,529.6) rotate(-45)" font-size="9.2" text-anchor="end" textLength="20" lengthAdjust="spacingAndGlyphs" >pMYs</text>
<text transform="translate(442.8,531.6) rotate(-45)" font-size="9.2" text-anchor="end" textLength="16.5" lengthAdjust="spacingAndGlyphs" >Phf6</text>
<rect x="385.7" y="548.5" width="53.8" height="14" fill="#f1f1f1" stroke="#2b2b2b" stroke-width="1" />
<rect x="385.7" y="565.5" width="53.8" height="14.1" fill="#f8f8f8" stroke="#2b2b2b" stroke-width="1" />
<rect x="385.7" y="582.5" width="53.8" height="15" fill="#f0f0f0" stroke="#2b2b2b" stroke-width="1" />
<defs><filter id="bl" x="-20%" y="-80%" width="140%" height="260%"><feGaussianBlur stdDeviation="0.5"/></filter></defs>
<rect x="387.6" y="550.5" width="10.2" height="2" rx="1.2" fill="#ddd" fill-opacity="0.6" filter="url(#bl)"/>
<rect x="400.4" y="550.5" width="11" height="2" rx="1.2" fill="#ddd" fill-opacity="0.6" filter="url(#bl)"/>
<rect x="413.8" y="550.5" width="10.2" height="2" rx="1.2" fill="#ddd" fill-opacity="0.6" filter="url(#bl)"/>
<rect x="426.6" y="550.5" width="11" height="2" rx="1.2" fill="#ddd" fill-opacity="0.6" filter="url(#bl)"/>
<rect x="387.6" y="554.8" width="10.2" height="2.4" rx="1.2" fill="#333" fill-opacity="0.9" filter="url(#bl)"/>
<rect x="400.4" y="554.2" width="11" height="3.6" rx="1.2" fill="#000" fill-opacity="1.0" filter="url(#bl)"/>
<rect x="413.8" y="554.2" width="10.2" height="1.6" rx="1.2" fill="#888" fill-opacity="0.55" filter="url(#bl)"/>
<rect x="426.6" y="554.2" width="11" height="3.6" rx="1.2" fill="#000" fill-opacity="1.0" filter="url(#bl)"/>
<rect x="400.4" y="571.7" width="11" height="2.6" rx="1.2" fill="#111" fill-opacity="1.0" filter="url(#bl)"/>
<rect x="426.6" y="572" width="11" height="2.6" rx="1.2" fill="#111" fill-opacity="1.0" filter="url(#bl)"/>
<rect x="387.6" y="567.5" width="10.2" height="1" rx="1.2" fill="#ccc" fill-opacity="0.5" filter="url(#bl)"/>
<rect x="387.6" y="588" width="10.2" height="3" rx="1.2" fill="#080808" fill-opacity="1.0" filter="url(#bl)"/>
<rect x="387.6" y="593.5" width="10.2" height="1.6" rx="1.2" fill="#c4c4c4" fill-opacity="0.6" filter="url(#bl)"/>
<rect x="400.4" y="567.5" width="11" height="1" rx="1.2" fill="#ccc" fill-opacity="0.5" filter="url(#bl)"/>
<rect x="400.4" y="588" width="11" height="3" rx="1.2" fill="#080808" fill-opacity="1.0" filter="url(#bl)"/>
<rect x="400.4" y="593.5" width="11" height="1.6" rx="1.2" fill="#c4c4c4" fill-opacity="0.6" filter="url(#bl)"/>
<rect x="413.8" y="567.5" width="10.2" height="1" rx="1.2" fill="#ccc" fill-opacity="0.5" filter="url(#bl)"/>
<rect x="413.8" y="588" width="10.2" height="3" rx="1.2" fill="#080808" fill-opacity="1.0" filter="url(#bl)"/>
<rect x="413.8" y="593.5" width="10.2" height="1.6" rx="1.2" fill="#c4c4c4" fill-opacity="0.6" filter="url(#bl)"/>
<rect x="426.6" y="567.5" width="11" height="1" rx="1.2" fill="#ccc" fill-opacity="0.5" filter="url(#bl)"/>
<rect x="426.6" y="588" width="11" height="3" rx="1.2" fill="#080808" fill-opacity="1.0" filter="url(#bl)"/>
<rect x="426.6" y="593.5" width="11" height="1.6" rx="1.2" fill="#c4c4c4" fill-opacity="0.6" filter="url(#bl)"/>
<text x="381.8" y="558.2" font-size="9.2" text-anchor="end" textLength="26" lengthAdjust="spacingAndGlyphs" >&#945;-Phf6</text>
<text x="381.8" y="574.7" font-size="9.2" text-anchor="end" textLength="25" lengthAdjust="spacingAndGlyphs" >&#945;-Flag</text>
<text x="381.8" y="590.5" font-size="9.2" text-anchor="end" textLength="39" lengthAdjust="spacingAndGlyphs" >&#945;-Vinculin</text>
<polyline points="331.6,670 424.1,654.8 461.1,548.4" fill="none" stroke="#4a6286" stroke-width="1.45"/>
<polyline points="331.6,670 424.1,662.4 461.1,612.43" fill="none" stroke="#a23646" stroke-width="1.45"/>
<polyline points="331.6,670 424.1,660.98 461.1,603.5" fill="none" stroke="#72a85a" stroke-width="1.45"/>
<polyline points="331.6,670 424.1,659.74 461.1,598.75" fill="none" stroke="#6b4868" stroke-width="1.45"/>
<line x1="461.1" y1="545.2" x2="461.1" y2="542.23" stroke="#333" stroke-width="1" />
<path d="M331.6,666.64 L334.79,672.35 L328.41,672.35 Z" fill="#fff" stroke="#4a6286" stroke-width="1.1"/>
<path d="M424.1,651.44 L427.29,657.15 L420.91,657.15 Z" fill="#fff" stroke="#4a6286" stroke-width="1.1"/>
<path d="M461.1,545.04 L464.29,550.75 L457.91,550.75 Z" fill="#fff" stroke="#4a6286" stroke-width="1.1"/>
<circle cx="331.6" cy="670" r="2.8" fill="#fff" stroke="#a23646" stroke-width="1.1"/>
<circle cx="424.1" cy="662.4" r="2.8" fill="#fff" stroke="#a23646" stroke-width="1.1"/>
<circle cx="461.1" cy="612.43" r="2.8" fill="#fff" stroke="#a23646" stroke-width="1.1"/>
<circle cx="331.6" cy="670" r="3.25" fill="#72a85a"/>
<circle cx="424.1" cy="660.98" r="3.25" fill="#72a85a"/>
<circle cx="461.1" cy="603.5" r="3.25" fill="#72a85a"/>
<path d="M331.6,666.19 L335.22,672.67 L327.98,672.67 Z" fill="#6b4868"/>
<path d="M424.1,655.93 L427.72,662.41 L420.48,662.41 Z" fill="#6b4868"/>
<path d="M461.1,594.94 L464.72,601.42 L457.48,601.42 Z" fill="#6b4868"/>
<line x1="469" y1="548.3" x2="469" y2="586.4" stroke="#333" stroke-width="1.2" />
<text transform="translate(469.6,567.9) rotate(90)" font-size="8.4" text-anchor="middle" style="stroke-width:0.3px;letter-spacing:0.4px">***</text>
<line x1="319.9" y1="720.6" x2="333.7" y2="720.6" stroke="#a23646" stroke-width="1.3" />
<circle cx="326.7" cy="720.6" r="2.75" fill="#fff" stroke="#a23646" stroke-width="1.1"/>
<text x="338.3" y="722.7" font-size="9.2" font-style="italic" textLength="34.8" lengthAdjust="spacingAndGlyphs" >VC_pMYs</text>
<line x1="319.9" y1="736.5" x2="333.7" y2="736.5" stroke="#72a85a" stroke-width="1.3" />
<circle cx="326.7" cy="736.5" r="3.19" fill="#72a85a"/>
<text x="338.3" y="738.9" font-size="9.2" font-style="italic" textLength="31.7" lengthAdjust="spacingAndGlyphs" >VC_Phf6</text>
<line x1="388.1" y1="720.7" x2="401.9" y2="720.7" stroke="#4a6286" stroke-width="1.3" />
<path d="M394.9,717.4 L398.04,723.01 L391.77,723.01 Z" fill="#fff" stroke="#4a6286" stroke-width="1.1"/>
<text x="406.1" y="723" font-size="9.2" font-style="italic" textLength="29" lengthAdjust="spacingAndGlyphs" >VC;Phf6</text>
<text x="435.5" y="719.32" font-size="5.52" font-style="italic" textLength="7.8" lengthAdjust="spacingAndGlyphs" style="stroke-width:0.18px">&#916;/y</text>
<text x="443.5" y="723" font-size="9.2" font-style="italic" textLength="26.3" lengthAdjust="spacingAndGlyphs" >_pMYs</text>
<line x1="388.1" y1="736.3" x2="401.9" y2="736.3" stroke="#6b4868" stroke-width="1.3" />
<path d="M394.9,732.56 L398.45,738.92 L391.35,738.92 Z" fill="#6b4868"/>
<text x="406.1" y="738.6" font-size="9.2" font-style="italic" textLength="29" lengthAdjust="spacingAndGlyphs" >VC;Phf6</text>
<text x="435.5" y="734.92" font-size="5.52" font-style="italic" textLength="7.8" lengthAdjust="spacingAndGlyphs" style="stroke-width:0.18px">&#916;/y</text>
<text x="443.5" y="738.6" font-size="9.2" font-style="italic" textLength="23" lengthAdjust="spacingAndGlyphs" >_Phf6</text>
</svg>
<div class="frame"></div>
</body></html>
